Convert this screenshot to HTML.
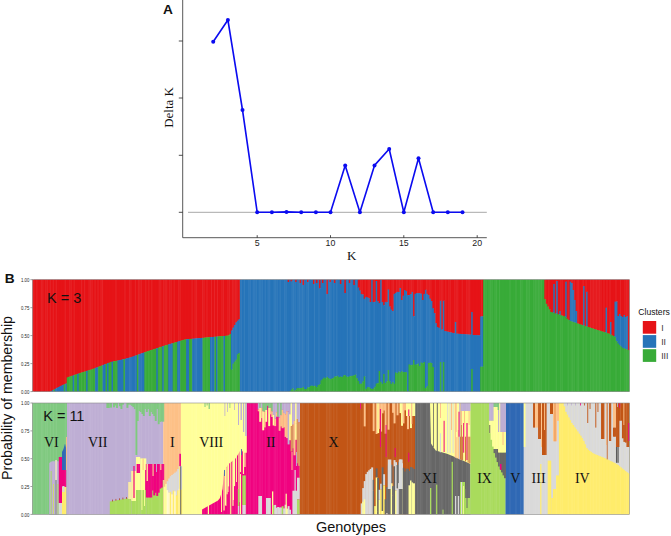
<!DOCTYPE html>
<html><head><meta charset="utf-8"><title>Figure</title>
<style>html,body{margin:0;padding:0;background:#fff}svg{display:block;font-family:"Liberation Sans",sans-serif}</style>
</head><body>
<svg width="671" height="536" viewBox="0 0 671 536">
<rect width="671" height="536" fill="#fff"/>
<g id="top">
<line x1="188" y1="212.3" x2="486.8" y2="212.3" stroke="#a8a8a8" stroke-width="1"/>
<path d="M182.7 0V237.7H486.8" fill="none" stroke="#3a3a3a" stroke-width="0.85"/>
<line x1="178.8" y1="41" x2="182.7" y2="41" stroke="#222" stroke-width="0.8"/>
<line x1="178.8" y1="98" x2="182.7" y2="98" stroke="#222" stroke-width="0.8"/>
<line x1="178.8" y1="155.3" x2="182.7" y2="155.3" stroke="#222" stroke-width="0.8"/>
<line x1="178.8" y1="212.3" x2="182.7" y2="212.3" stroke="#222" stroke-width="0.8"/>
<line x1="257.2" y1="235.2" x2="257.2" y2="237.7" stroke="#222" stroke-width="0.8"/>
<text x="257.2" y="246.2" font-size="8.8" text-anchor="middle" fill="#222">5</text>
<line x1="330.5" y1="235.2" x2="330.5" y2="237.7" stroke="#222" stroke-width="0.8"/>
<text x="330.5" y="246.2" font-size="8.8" text-anchor="middle" fill="#222">10</text>
<line x1="403.8" y1="235.2" x2="403.8" y2="237.7" stroke="#222" stroke-width="0.8"/>
<text x="403.8" y="246.2" font-size="8.8" text-anchor="middle" fill="#222">15</text>
<line x1="477.2" y1="235.2" x2="477.2" y2="237.7" stroke="#222" stroke-width="0.8"/>
<text x="477.2" y="246.2" font-size="8.8" text-anchor="middle" fill="#222">20</text>
<path d="M213.2 41.8 L227.9 20 L242.5 110 L257.2 212.3 L271.9 212.3 L286.5 211.9 L301.2 212.3 L315.9 212.3 L330.5 212.3 L345.2 165.4 L359.9 212.3 L374.5 165.4 L389.2 149 L403.8 212.3 L418.5 158.2 L433.2 212.3 L447.8 212.3 L462.5 212.3" fill="none" stroke="#0b0bf0" stroke-width="1.6" stroke-linejoin="round"/>
<circle cx="213.2" cy="41.8" r="2" fill="#0b0bf0"/>
<circle cx="227.9" cy="20" r="2" fill="#0b0bf0"/>
<circle cx="242.5" cy="110" r="2" fill="#0b0bf0"/>
<circle cx="257.2" cy="212.3" r="2" fill="#0b0bf0"/>
<circle cx="271.9" cy="212.3" r="2" fill="#0b0bf0"/>
<circle cx="286.5" cy="211.9" r="2" fill="#0b0bf0"/>
<circle cx="301.2" cy="212.3" r="2" fill="#0b0bf0"/>
<circle cx="315.9" cy="212.3" r="2" fill="#0b0bf0"/>
<circle cx="330.5" cy="212.3" r="2" fill="#0b0bf0"/>
<circle cx="345.2" cy="165.4" r="2" fill="#0b0bf0"/>
<circle cx="359.9" cy="212.3" r="2" fill="#0b0bf0"/>
<circle cx="374.5" cy="165.4" r="2" fill="#0b0bf0"/>
<circle cx="389.2" cy="149" r="2" fill="#0b0bf0"/>
<circle cx="403.8" cy="212.3" r="2" fill="#0b0bf0"/>
<circle cx="418.5" cy="158.2" r="2" fill="#0b0bf0"/>
<circle cx="433.2" cy="212.3" r="2" fill="#0b0bf0"/>
<circle cx="447.8" cy="212.3" r="2" fill="#0b0bf0"/>
<circle cx="462.5" cy="212.3" r="2" fill="#0b0bf0"/>
<text x="351.6" y="260" font-family="Liberation Serif, serif" font-size="13" text-anchor="middle" fill="#111">K</text>
<text transform="translate(172.9,107.4) rotate(-90)" font-family="Liberation Serif, serif" font-size="13" text-anchor="middle" fill="#111">Delta K</text>
<text x="162.9" y="13.8" font-size="13.7" font-weight="bold" fill="#111">A</text>
</g>
<g id="k3">
<rect x="32.4" y="279.7" width="597.0" height="111.90000000000003" fill="#fff"/>
<rect x="32.40" y="279.7" width="2.98" height="111.9" fill="#e61317"/>
<rect x="33.89" y="279.7" width="2.98" height="111.9" fill="#e61317"/>
<rect x="35.38" y="279.7" width="2.98" height="111.9" fill="#e61317"/>
<rect x="36.88" y="279.7" width="2.98" height="111.9" fill="#e61317"/>
<rect x="38.37" y="279.7" width="2.98" height="111.9" fill="#e61317"/>
<rect x="39.86" y="279.7" width="2.98" height="111.9" fill="#e61317"/>
<rect x="41.35" y="279.7" width="2.98" height="111.9" fill="#e61317"/>
<rect x="42.85" y="279.7" width="2.98" height="111.9" fill="#e61317"/>
<rect x="44.34" y="279.7" width="2.98" height="111.9" fill="#e61317"/>
<rect x="45.83" y="279.7" width="2.98" height="111.9" fill="#e61317"/>
<rect x="47.32" y="279.7" width="2.98" height="111.9" fill="#e61317"/>
<rect x="48.82" y="279.7" width="2.98" height="111.9" fill="#e61317"/>
<rect x="50.31" y="279.7" width="2.98" height="111.3" fill="#e61317"/>
<rect x="50.31" y="391.0" width="2.98" height="0.6" fill="#2674b9"/>
<rect x="51.80" y="279.7" width="2.98" height="110.5" fill="#e61317"/>
<rect x="51.80" y="390.2" width="2.98" height="1.4" fill="#2674b9"/>
<rect x="53.30" y="279.7" width="2.98" height="109.7" fill="#e61317"/>
<rect x="53.30" y="389.4" width="2.98" height="2.2" fill="#38ab38"/>
<rect x="54.79" y="279.7" width="2.98" height="108.9" fill="#e61317"/>
<rect x="54.79" y="388.6" width="2.98" height="3.0" fill="#2674b9"/>
<rect x="56.28" y="279.7" width="2.98" height="108.1" fill="#e61317"/>
<rect x="56.28" y="387.8" width="2.98" height="3.8" fill="#2674b9"/>
<rect x="57.77" y="279.7" width="2.98" height="107.3" fill="#e61317"/>
<rect x="57.77" y="387.0" width="2.98" height="4.6" fill="#2674b9"/>
<rect x="59.27" y="279.7" width="2.98" height="106.5" fill="#e61317"/>
<rect x="59.27" y="386.2" width="2.98" height="5.4" fill="#2674b9"/>
<rect x="60.76" y="279.7" width="2.98" height="105.8" fill="#e61317"/>
<rect x="60.76" y="385.5" width="2.98" height="6.1" fill="#2674b9"/>
<rect x="62.25" y="279.7" width="2.98" height="105.1" fill="#e61317"/>
<rect x="62.25" y="384.8" width="2.98" height="6.8" fill="#2674b9"/>
<rect x="63.74" y="279.7" width="2.98" height="104.4" fill="#e61317"/>
<rect x="63.74" y="384.1" width="2.98" height="7.5" fill="#38ab38"/>
<rect x="65.23" y="279.7" width="2.98" height="103.8" fill="#e61317"/>
<rect x="65.23" y="383.5" width="2.98" height="8.1" fill="#2674b9"/>
<rect x="66.73" y="279.7" width="2.98" height="97.6" fill="#e61317"/>
<rect x="66.73" y="377.3" width="2.98" height="14.3" fill="#38ab38"/>
<rect x="68.22" y="279.7" width="2.98" height="97.1" fill="#e61317"/>
<rect x="68.22" y="376.8" width="2.98" height="14.8" fill="#38ab38"/>
<rect x="69.71" y="279.7" width="2.98" height="96.6" fill="#e61317"/>
<rect x="69.71" y="376.3" width="2.98" height="15.3" fill="#38ab38"/>
<rect x="71.20" y="279.7" width="2.98" height="96.1" fill="#e61317"/>
<rect x="71.20" y="375.8" width="2.98" height="15.8" fill="#38ab38"/>
<rect x="72.70" y="279.7" width="2.98" height="95.6" fill="#e61317"/>
<rect x="72.70" y="375.3" width="2.98" height="16.3" fill="#2674b9"/>
<rect x="74.19" y="279.7" width="2.98" height="95.0" fill="#e61317"/>
<rect x="74.19" y="374.7" width="2.98" height="16.9" fill="#38ab38"/>
<rect x="75.68" y="279.7" width="2.98" height="94.5" fill="#e61317"/>
<rect x="75.68" y="374.2" width="2.98" height="17.4" fill="#38ab38"/>
<rect x="77.17" y="279.7" width="2.98" height="94.0" fill="#e61317"/>
<rect x="77.17" y="373.7" width="2.98" height="17.9" fill="#2674b9"/>
<rect x="78.67" y="279.7" width="2.98" height="93.5" fill="#e61317"/>
<rect x="78.67" y="373.2" width="2.98" height="18.4" fill="#38ab38"/>
<rect x="80.16" y="279.7" width="2.98" height="93.0" fill="#e61317"/>
<rect x="80.16" y="372.7" width="2.98" height="18.9" fill="#38ab38"/>
<rect x="81.65" y="279.7" width="2.98" height="92.5" fill="#e61317"/>
<rect x="81.65" y="372.2" width="2.98" height="19.4" fill="#38ab38"/>
<rect x="83.14" y="279.7" width="2.98" height="92.1" fill="#e61317"/>
<rect x="83.14" y="371.8" width="2.98" height="19.8" fill="#38ab38"/>
<rect x="84.64" y="279.7" width="2.98" height="91.6" fill="#e61317"/>
<rect x="84.64" y="371.3" width="2.98" height="20.3" fill="#38ab38"/>
<rect x="86.13" y="279.7" width="2.98" height="91.1" fill="#e61317"/>
<rect x="86.13" y="370.8" width="2.98" height="20.8" fill="#2674b9"/>
<rect x="87.62" y="279.7" width="2.98" height="90.6" fill="#e61317"/>
<rect x="87.62" y="370.3" width="2.98" height="21.3" fill="#38ab38"/>
<rect x="89.11" y="279.7" width="2.98" height="90.2" fill="#e61317"/>
<rect x="89.11" y="369.9" width="2.98" height="21.7" fill="#38ab38"/>
<rect x="90.61" y="279.7" width="2.98" height="89.7" fill="#e61317"/>
<rect x="90.61" y="369.4" width="2.98" height="22.2" fill="#38ab38"/>
<rect x="92.10" y="279.7" width="2.98" height="89.2" fill="#e61317"/>
<rect x="92.10" y="368.9" width="2.98" height="22.7" fill="#38ab38"/>
<rect x="93.59" y="279.7" width="2.98" height="88.6" fill="#e61317"/>
<rect x="93.59" y="368.3" width="2.98" height="23.3" fill="#38ab38"/>
<rect x="95.08" y="279.7" width="2.98" height="88.0" fill="#e61317"/>
<rect x="95.08" y="367.7" width="2.98" height="23.9" fill="#2674b9"/>
<rect x="96.58" y="279.7" width="2.98" height="87.5" fill="#e61317"/>
<rect x="96.58" y="367.2" width="2.98" height="24.4" fill="#2674b9"/>
<rect x="98.07" y="279.7" width="2.98" height="86.9" fill="#e61317"/>
<rect x="98.07" y="366.6" width="2.98" height="25.0" fill="#38ab38"/>
<rect x="99.56" y="279.7" width="2.98" height="86.3" fill="#e61317"/>
<rect x="99.56" y="366.0" width="2.98" height="25.6" fill="#38ab38"/>
<rect x="101.06" y="279.7" width="2.98" height="85.7" fill="#e61317"/>
<rect x="101.06" y="365.4" width="2.98" height="26.2" fill="#38ab38"/>
<rect x="102.55" y="279.7" width="2.98" height="85.1" fill="#e61317"/>
<rect x="102.55" y="364.8" width="2.98" height="26.8" fill="#2674b9"/>
<rect x="104.04" y="279.7" width="2.98" height="84.5" fill="#e61317"/>
<rect x="104.04" y="364.2" width="2.98" height="27.4" fill="#2674b9"/>
<rect x="105.53" y="279.7" width="2.98" height="84.0" fill="#e61317"/>
<rect x="105.53" y="363.7" width="2.98" height="27.9" fill="#38ab38"/>
<rect x="107.03" y="279.7" width="2.98" height="83.4" fill="#e61317"/>
<rect x="107.03" y="363.1" width="2.98" height="28.5" fill="#2674b9"/>
<rect x="108.52" y="279.7" width="2.98" height="82.8" fill="#e61317"/>
<rect x="108.52" y="362.5" width="2.98" height="29.1" fill="#38ab38"/>
<rect x="110.01" y="279.7" width="2.98" height="82.2" fill="#e61317"/>
<rect x="110.01" y="361.9" width="2.98" height="29.7" fill="#38ab38"/>
<rect x="111.50" y="279.7" width="2.98" height="81.9" fill="#e61317"/>
<rect x="111.50" y="361.6" width="2.98" height="30.0" fill="#2674b9"/>
<rect x="113.00" y="279.7" width="2.98" height="81.6" fill="#e61317"/>
<rect x="113.00" y="361.3" width="2.98" height="30.3" fill="#38ab38"/>
<rect x="114.49" y="279.7" width="2.98" height="81.3" fill="#e61317"/>
<rect x="114.49" y="361.0" width="2.98" height="30.6" fill="#38ab38"/>
<rect x="115.98" y="279.7" width="2.98" height="81.0" fill="#e61317"/>
<rect x="115.98" y="360.7" width="2.98" height="30.9" fill="#38ab38"/>
<rect x="117.47" y="279.7" width="2.98" height="80.7" fill="#e61317"/>
<rect x="117.47" y="360.4" width="2.98" height="31.2" fill="#2674b9"/>
<rect x="118.97" y="279.7" width="2.98" height="80.4" fill="#e61317"/>
<rect x="118.97" y="360.1" width="2.98" height="31.5" fill="#2674b9"/>
<rect x="120.46" y="279.7" width="2.98" height="80.0" fill="#e61317"/>
<rect x="120.46" y="359.7" width="2.98" height="31.9" fill="#2674b9"/>
<rect x="121.95" y="279.7" width="2.98" height="79.6" fill="#e61317"/>
<rect x="121.95" y="359.3" width="2.98" height="32.3" fill="#2674b9"/>
<rect x="123.44" y="279.7" width="2.98" height="79.3" fill="#e61317"/>
<rect x="123.44" y="359.0" width="2.98" height="32.6" fill="#38ab38"/>
<rect x="124.94" y="279.7" width="2.98" height="78.9" fill="#e61317"/>
<rect x="124.94" y="358.6" width="2.98" height="33.0" fill="#2674b9"/>
<rect x="126.43" y="279.7" width="2.98" height="78.5" fill="#e61317"/>
<rect x="126.43" y="358.2" width="2.98" height="33.4" fill="#2674b9"/>
<rect x="127.92" y="279.7" width="2.98" height="78.1" fill="#e61317"/>
<rect x="127.92" y="357.8" width="2.98" height="33.8" fill="#2674b9"/>
<rect x="129.41" y="279.7" width="2.98" height="77.7" fill="#e61317"/>
<rect x="129.41" y="357.4" width="2.98" height="34.2" fill="#2674b9"/>
<rect x="130.91" y="279.7" width="2.98" height="77.2" fill="#e61317"/>
<rect x="130.91" y="356.9" width="2.98" height="34.7" fill="#2674b9"/>
<rect x="132.40" y="279.7" width="2.98" height="76.7" fill="#e61317"/>
<rect x="132.40" y="356.4" width="2.98" height="35.2" fill="#2674b9"/>
<rect x="133.89" y="279.7" width="2.98" height="76.1" fill="#e61317"/>
<rect x="133.89" y="355.8" width="2.98" height="35.8" fill="#2674b9"/>
<rect x="135.38" y="279.7" width="2.98" height="75.6" fill="#e61317"/>
<rect x="135.38" y="355.3" width="2.98" height="36.3" fill="#2674b9"/>
<rect x="136.88" y="279.7" width="2.98" height="75.0" fill="#e61317"/>
<rect x="136.88" y="354.7" width="2.98" height="36.9" fill="#38ab38"/>
<rect x="138.37" y="279.7" width="2.98" height="74.5" fill="#e61317"/>
<rect x="138.37" y="354.2" width="2.98" height="37.4" fill="#2674b9"/>
<rect x="139.86" y="279.7" width="2.98" height="73.9" fill="#e61317"/>
<rect x="139.86" y="353.6" width="2.98" height="38.0" fill="#2674b9"/>
<rect x="141.35" y="279.7" width="2.98" height="73.4" fill="#e61317"/>
<rect x="141.35" y="353.1" width="2.98" height="38.5" fill="#2674b9"/>
<rect x="142.84" y="279.7" width="2.98" height="72.9" fill="#e61317"/>
<rect x="142.84" y="352.6" width="2.98" height="39.0" fill="#2674b9"/>
<rect x="144.34" y="279.7" width="2.98" height="72.3" fill="#e61317"/>
<rect x="144.34" y="352.0" width="2.98" height="39.6" fill="#38ab38"/>
<rect x="145.83" y="279.7" width="2.98" height="71.8" fill="#e61317"/>
<rect x="145.83" y="351.5" width="2.98" height="40.1" fill="#38ab38"/>
<rect x="147.32" y="279.7" width="2.98" height="71.3" fill="#e61317"/>
<rect x="147.32" y="351.0" width="2.98" height="40.6" fill="#38ab38"/>
<rect x="148.81" y="279.7" width="2.98" height="70.8" fill="#e61317"/>
<rect x="148.81" y="350.5" width="2.98" height="41.1" fill="#38ab38"/>
<rect x="150.31" y="279.7" width="2.98" height="70.3" fill="#e61317"/>
<rect x="150.31" y="350.0" width="2.98" height="41.6" fill="#38ab38"/>
<rect x="151.80" y="279.7" width="2.98" height="69.9" fill="#e61317"/>
<rect x="151.80" y="349.6" width="2.98" height="42.0" fill="#38ab38"/>
<rect x="153.29" y="279.7" width="2.98" height="69.4" fill="#e61317"/>
<rect x="153.29" y="349.1" width="2.98" height="42.5" fill="#38ab38"/>
<rect x="154.78" y="279.7" width="2.98" height="68.9" fill="#e61317"/>
<rect x="154.78" y="348.6" width="2.98" height="43.0" fill="#38ab38"/>
<rect x="156.28" y="279.7" width="2.98" height="68.4" fill="#e61317"/>
<rect x="156.28" y="348.1" width="2.98" height="43.5" fill="#2674b9"/>
<rect x="157.77" y="279.7" width="2.98" height="67.9" fill="#e61317"/>
<rect x="157.77" y="347.6" width="2.98" height="44.0" fill="#38ab38"/>
<rect x="159.26" y="279.7" width="2.98" height="67.4" fill="#e61317"/>
<rect x="159.26" y="347.1" width="2.98" height="44.5" fill="#38ab38"/>
<rect x="160.75" y="279.7" width="2.98" height="66.9" fill="#e61317"/>
<rect x="160.75" y="346.6" width="2.98" height="45.0" fill="#38ab38"/>
<rect x="162.25" y="279.7" width="2.98" height="66.4" fill="#e61317"/>
<rect x="162.25" y="346.1" width="2.98" height="45.5" fill="#2674b9"/>
<rect x="163.74" y="279.7" width="2.98" height="65.9" fill="#e61317"/>
<rect x="163.74" y="345.6" width="2.98" height="46.0" fill="#38ab38"/>
<rect x="165.23" y="279.7" width="2.98" height="65.4" fill="#e61317"/>
<rect x="165.23" y="345.1" width="2.98" height="46.5" fill="#38ab38"/>
<rect x="166.72" y="279.7" width="2.98" height="65.0" fill="#e61317"/>
<rect x="166.72" y="344.7" width="2.98" height="46.9" fill="#38ab38"/>
<rect x="168.22" y="279.7" width="2.98" height="64.5" fill="#e61317"/>
<rect x="168.22" y="344.2" width="2.98" height="47.4" fill="#2674b9"/>
<rect x="169.71" y="279.7" width="2.98" height="64.1" fill="#e61317"/>
<rect x="169.71" y="343.8" width="2.98" height="47.8" fill="#2674b9"/>
<rect x="171.20" y="279.7" width="2.98" height="63.6" fill="#e61317"/>
<rect x="171.20" y="343.3" width="2.98" height="48.3" fill="#2674b9"/>
<rect x="172.69" y="279.7" width="2.98" height="63.2" fill="#e61317"/>
<rect x="172.69" y="342.9" width="2.98" height="48.7" fill="#38ab38"/>
<rect x="174.19" y="279.7" width="2.98" height="62.7" fill="#e61317"/>
<rect x="174.19" y="342.4" width="2.98" height="49.2" fill="#38ab38"/>
<rect x="175.68" y="279.7" width="2.98" height="62.3" fill="#e61317"/>
<rect x="175.68" y="342.0" width="2.98" height="49.6" fill="#38ab38"/>
<rect x="177.17" y="279.7" width="2.98" height="61.8" fill="#e61317"/>
<rect x="177.17" y="341.5" width="2.98" height="50.1" fill="#2674b9"/>
<rect x="178.66" y="279.7" width="2.98" height="61.4" fill="#e61317"/>
<rect x="178.66" y="341.1" width="2.98" height="50.5" fill="#2674b9"/>
<rect x="180.16" y="279.7" width="2.98" height="60.9" fill="#e61317"/>
<rect x="180.16" y="340.6" width="2.98" height="51.0" fill="#38ab38"/>
<rect x="181.65" y="279.7" width="2.98" height="60.5" fill="#e61317"/>
<rect x="181.65" y="340.2" width="2.98" height="51.4" fill="#38ab38"/>
<rect x="183.14" y="279.7" width="2.98" height="60.0" fill="#e61317"/>
<rect x="183.14" y="339.7" width="2.98" height="51.9" fill="#38ab38"/>
<rect x="184.63" y="279.7" width="2.98" height="59.7" fill="#e61317"/>
<rect x="184.63" y="339.4" width="2.98" height="52.2" fill="#38ab38"/>
<rect x="186.13" y="279.7" width="2.98" height="59.5" fill="#e61317"/>
<rect x="186.13" y="339.2" width="2.98" height="52.4" fill="#2674b9"/>
<rect x="187.62" y="279.7" width="2.98" height="59.4" fill="#e61317"/>
<rect x="187.62" y="339.1" width="2.98" height="52.5" fill="#2674b9"/>
<rect x="189.11" y="279.7" width="2.98" height="59.3" fill="#e61317"/>
<rect x="189.11" y="339.0" width="2.98" height="52.6" fill="#38ab38"/>
<rect x="190.60" y="279.7" width="2.98" height="59.1" fill="#e61317"/>
<rect x="190.60" y="338.8" width="2.98" height="52.8" fill="#38ab38"/>
<rect x="192.10" y="279.7" width="2.98" height="59.0" fill="#e61317"/>
<rect x="192.10" y="338.7" width="2.98" height="52.9" fill="#2674b9"/>
<rect x="193.59" y="279.7" width="2.98" height="58.9" fill="#e61317"/>
<rect x="193.59" y="338.6" width="2.98" height="53.0" fill="#2674b9"/>
<rect x="195.08" y="279.7" width="2.98" height="58.7" fill="#e61317"/>
<rect x="195.08" y="338.4" width="2.98" height="53.2" fill="#2674b9"/>
<rect x="196.57" y="279.7" width="2.98" height="58.6" fill="#e61317"/>
<rect x="196.57" y="338.3" width="2.98" height="53.3" fill="#2674b9"/>
<rect x="198.07" y="279.7" width="2.98" height="58.5" fill="#e61317"/>
<rect x="198.07" y="338.2" width="2.98" height="53.4" fill="#2674b9"/>
<rect x="199.56" y="279.7" width="2.98" height="58.3" fill="#e61317"/>
<rect x="199.56" y="338.0" width="2.98" height="53.6" fill="#2674b9"/>
<rect x="201.05" y="279.7" width="2.98" height="58.2" fill="#e61317"/>
<rect x="201.05" y="337.9" width="2.98" height="53.7" fill="#2674b9"/>
<rect x="202.54" y="279.7" width="2.98" height="58.1" fill="#e61317"/>
<rect x="202.54" y="337.8" width="2.98" height="53.8" fill="#38ab38"/>
<rect x="204.04" y="279.7" width="2.98" height="57.9" fill="#e61317"/>
<rect x="204.04" y="337.6" width="2.98" height="54.0" fill="#38ab38"/>
<rect x="205.53" y="279.7" width="2.98" height="57.8" fill="#e61317"/>
<rect x="205.53" y="337.5" width="2.98" height="54.1" fill="#38ab38"/>
<rect x="207.02" y="279.7" width="2.98" height="57.7" fill="#e61317"/>
<rect x="207.02" y="337.4" width="2.98" height="54.2" fill="#38ab38"/>
<rect x="208.51" y="279.7" width="2.98" height="57.5" fill="#e61317"/>
<rect x="208.51" y="337.2" width="2.98" height="54.4" fill="#38ab38"/>
<rect x="210.01" y="279.7" width="2.98" height="57.4" fill="#e61317"/>
<rect x="210.01" y="337.1" width="2.98" height="54.5" fill="#2674b9"/>
<rect x="211.50" y="279.7" width="2.98" height="57.3" fill="#e61317"/>
<rect x="211.50" y="337.0" width="2.98" height="54.6" fill="#2674b9"/>
<rect x="212.99" y="279.7" width="2.98" height="57.1" fill="#e61317"/>
<rect x="212.99" y="336.8" width="2.98" height="54.8" fill="#2674b9"/>
<rect x="214.48" y="279.7" width="2.98" height="57.0" fill="#e61317"/>
<rect x="214.48" y="336.7" width="2.98" height="54.9" fill="#38ab38"/>
<rect x="215.98" y="279.7" width="2.98" height="56.9" fill="#e61317"/>
<rect x="215.98" y="336.6" width="2.98" height="55.0" fill="#2674b9"/>
<rect x="217.47" y="279.7" width="2.98" height="56.7" fill="#e61317"/>
<rect x="217.47" y="336.4" width="2.98" height="55.2" fill="#38ab38"/>
<rect x="218.96" y="279.7" width="2.98" height="56.6" fill="#e61317"/>
<rect x="218.96" y="336.3" width="2.98" height="55.3" fill="#38ab38"/>
<rect x="220.45" y="279.7" width="2.98" height="56.5" fill="#e61317"/>
<rect x="220.45" y="336.2" width="2.98" height="55.4" fill="#38ab38"/>
<rect x="221.95" y="279.7" width="2.98" height="56.3" fill="#e61317"/>
<rect x="221.95" y="336.0" width="2.98" height="55.6" fill="#38ab38"/>
<rect x="223.44" y="279.7" width="2.98" height="56.2" fill="#e61317"/>
<rect x="223.44" y="335.9" width="2.98" height="55.7" fill="#2674b9"/>
<rect x="224.93" y="279.7" width="2.98" height="56.1" fill="#e61317"/>
<rect x="224.93" y="335.8" width="2.98" height="55.8" fill="#38ab38"/>
<rect x="226.43" y="279.7" width="2.98" height="55.9" fill="#e61317"/>
<rect x="226.43" y="335.6" width="2.98" height="56.0" fill="#38ab38"/>
<rect x="227.92" y="279.7" width="2.98" height="55.8" fill="#e61317"/>
<rect x="227.92" y="335.5" width="2.98" height="56.1" fill="#38ab38"/>
<rect x="229.41" y="279.7" width="2.98" height="54.3" fill="#e61317"/>
<rect x="229.41" y="334.0" width="2.98" height="57.6" fill="#38ab38"/>
<rect x="230.90" y="279.7" width="2.98" height="50.7" fill="#e61317"/>
<rect x="230.90" y="330.4" width="2.98" height="39.3" fill="#2674b9"/>
<rect x="230.90" y="369.7" width="2.98" height="21.9" fill="#38ab38"/>
<rect x="232.40" y="279.7" width="2.98" height="47.9" fill="#e61317"/>
<rect x="232.40" y="327.6" width="2.98" height="36.0" fill="#2674b9"/>
<rect x="232.40" y="363.6" width="2.98" height="28.0" fill="#38ab38"/>
<rect x="233.89" y="279.7" width="2.98" height="45.3" fill="#e61317"/>
<rect x="233.89" y="325.0" width="2.98" height="36.8" fill="#2674b9"/>
<rect x="233.89" y="361.7" width="2.98" height="29.9" fill="#38ab38"/>
<rect x="235.38" y="279.7" width="2.98" height="42.6" fill="#e61317"/>
<rect x="235.38" y="322.3" width="2.98" height="37.3" fill="#2674b9"/>
<rect x="235.38" y="359.6" width="2.98" height="32.0" fill="#38ab38"/>
<rect x="236.87" y="279.7" width="2.98" height="41.0" fill="#e61317"/>
<rect x="236.87" y="320.7" width="2.98" height="33.7" fill="#2674b9"/>
<rect x="236.87" y="354.3" width="2.98" height="37.3" fill="#38ab38"/>
<rect x="238.37" y="279.7" width="2.98" height="39.5" fill="#e61317"/>
<rect x="238.37" y="319.2" width="2.98" height="33.8" fill="#2674b9"/>
<rect x="238.37" y="353.0" width="2.98" height="38.6" fill="#38ab38"/>
<rect x="239.86" y="279.7" width="2.98" height="111.9" fill="#2674b9"/>
<rect x="241.35" y="279.7" width="2.98" height="111.9" fill="#2674b9"/>
<rect x="242.84" y="279.7" width="2.98" height="111.9" fill="#2674b9"/>
<rect x="244.34" y="279.7" width="2.98" height="111.9" fill="#2674b9"/>
<rect x="245.83" y="279.7" width="2.98" height="111.9" fill="#2674b9"/>
<rect x="247.32" y="279.7" width="2.98" height="111.9" fill="#2674b9"/>
<rect x="248.81" y="279.7" width="2.98" height="111.9" fill="#2674b9"/>
<rect x="250.31" y="279.7" width="2.98" height="111.9" fill="#2674b9"/>
<rect x="251.80" y="279.7" width="2.98" height="111.9" fill="#2674b9"/>
<rect x="253.29" y="279.7" width="2.98" height="111.9" fill="#2674b9"/>
<rect x="254.78" y="279.7" width="2.98" height="111.9" fill="#2674b9"/>
<rect x="256.27" y="279.7" width="2.98" height="111.9" fill="#2674b9"/>
<rect x="257.77" y="279.7" width="2.98" height="111.9" fill="#2674b9"/>
<rect x="259.26" y="279.7" width="2.98" height="111.9" fill="#2674b9"/>
<rect x="260.75" y="279.7" width="2.98" height="111.9" fill="#2674b9"/>
<rect x="262.25" y="279.7" width="2.98" height="111.9" fill="#2674b9"/>
<rect x="263.74" y="279.7" width="2.98" height="111.9" fill="#2674b9"/>
<rect x="265.23" y="279.7" width="2.98" height="111.9" fill="#2674b9"/>
<rect x="266.72" y="279.7" width="2.98" height="111.9" fill="#2674b9"/>
<rect x="268.21" y="279.7" width="2.98" height="111.9" fill="#2674b9"/>
<rect x="269.71" y="279.7" width="2.98" height="111.9" fill="#2674b9"/>
<rect x="271.20" y="279.7" width="2.98" height="111.9" fill="#2674b9"/>
<rect x="272.69" y="279.7" width="2.98" height="111.9" fill="#2674b9"/>
<rect x="274.19" y="279.7" width="2.98" height="111.9" fill="#2674b9"/>
<rect x="275.68" y="279.7" width="2.98" height="111.9" fill="#2674b9"/>
<rect x="277.17" y="279.7" width="2.98" height="111.9" fill="#2674b9"/>
<rect x="278.66" y="279.7" width="2.98" height="111.9" fill="#2674b9"/>
<rect x="280.15" y="279.7" width="2.98" height="111.9" fill="#2674b9"/>
<rect x="281.65" y="279.7" width="2.98" height="111.9" fill="#2674b9"/>
<rect x="283.14" y="279.7" width="2.98" height="111.9" fill="#2674b9"/>
<rect x="284.63" y="279.7" width="2.98" height="111.9" fill="#2674b9"/>
<rect x="286.12" y="279.7" width="2.98" height="111.9" fill="#2674b9"/>
<rect x="287.62" y="279.7" width="2.98" height="2.3" fill="#e61317"/>
<rect x="287.62" y="282.0" width="2.98" height="109.6" fill="#2674b9"/>
<rect x="289.11" y="279.7" width="2.98" height="111.5" fill="#2674b9"/>
<rect x="289.11" y="391.2" width="2.98" height="0.4" fill="#38ab38"/>
<rect x="290.60" y="279.7" width="2.98" height="1.8" fill="#e61317"/>
<rect x="290.60" y="281.5" width="2.98" height="108.1" fill="#2674b9"/>
<rect x="290.60" y="389.6" width="2.98" height="2.0" fill="#38ab38"/>
<rect x="292.09" y="279.7" width="2.98" height="108.7" fill="#2674b9"/>
<rect x="292.09" y="388.4" width="2.98" height="3.2" fill="#38ab38"/>
<rect x="293.59" y="279.7" width="2.98" height="111.0" fill="#2674b9"/>
<rect x="293.59" y="390.7" width="2.98" height="0.9" fill="#38ab38"/>
<rect x="295.08" y="279.7" width="2.98" height="2.3" fill="#e61317"/>
<rect x="295.08" y="282.0" width="2.98" height="107.7" fill="#2674b9"/>
<rect x="295.08" y="389.7" width="2.98" height="1.9" fill="#38ab38"/>
<rect x="296.57" y="279.7" width="2.98" height="108.3" fill="#2674b9"/>
<rect x="296.57" y="388.0" width="2.98" height="3.6" fill="#38ab38"/>
<rect x="298.06" y="279.7" width="2.98" height="108.4" fill="#2674b9"/>
<rect x="298.06" y="388.1" width="2.98" height="3.5" fill="#38ab38"/>
<rect x="299.56" y="279.7" width="2.98" height="3.3" fill="#e61317"/>
<rect x="299.56" y="283.0" width="2.98" height="105.2" fill="#2674b9"/>
<rect x="299.56" y="388.2" width="2.98" height="3.4" fill="#38ab38"/>
<rect x="301.05" y="279.7" width="2.98" height="108.3" fill="#2674b9"/>
<rect x="301.05" y="388.0" width="2.98" height="3.6" fill="#38ab38"/>
<rect x="302.54" y="279.7" width="2.98" height="5.3" fill="#e61317"/>
<rect x="302.54" y="285.0" width="2.98" height="102.1" fill="#2674b9"/>
<rect x="302.54" y="387.1" width="2.98" height="4.5" fill="#38ab38"/>
<rect x="304.03" y="279.7" width="2.98" height="109.3" fill="#2674b9"/>
<rect x="304.03" y="389.0" width="2.98" height="2.6" fill="#38ab38"/>
<rect x="305.53" y="279.7" width="2.98" height="109.5" fill="#2674b9"/>
<rect x="305.53" y="389.2" width="2.98" height="2.4" fill="#38ab38"/>
<rect x="307.02" y="279.7" width="2.98" height="2.3" fill="#e61317"/>
<rect x="307.02" y="282.0" width="2.98" height="105.4" fill="#2674b9"/>
<rect x="307.02" y="387.4" width="2.98" height="4.2" fill="#38ab38"/>
<rect x="308.51" y="279.7" width="2.98" height="107.6" fill="#2674b9"/>
<rect x="308.51" y="387.3" width="2.98" height="4.3" fill="#38ab38"/>
<rect x="310.00" y="279.7" width="2.98" height="106.1" fill="#2674b9"/>
<rect x="310.00" y="385.8" width="2.98" height="5.8" fill="#38ab38"/>
<rect x="311.50" y="279.7" width="2.98" height="106.0" fill="#2674b9"/>
<rect x="311.50" y="385.7" width="2.98" height="5.9" fill="#38ab38"/>
<rect x="312.99" y="279.7" width="2.98" height="4.3" fill="#e61317"/>
<rect x="312.99" y="284.0" width="2.98" height="102.2" fill="#2674b9"/>
<rect x="312.99" y="386.2" width="2.98" height="5.4" fill="#38ab38"/>
<rect x="314.48" y="279.7" width="2.98" height="106.0" fill="#2674b9"/>
<rect x="314.48" y="385.7" width="2.98" height="5.9" fill="#38ab38"/>
<rect x="315.97" y="279.7" width="2.98" height="3.3" fill="#e61317"/>
<rect x="315.97" y="283.0" width="2.98" height="104.2" fill="#2674b9"/>
<rect x="315.97" y="387.2" width="2.98" height="4.4" fill="#38ab38"/>
<rect x="317.47" y="279.7" width="2.98" height="105.3" fill="#2674b9"/>
<rect x="317.47" y="385.0" width="2.98" height="6.6" fill="#38ab38"/>
<rect x="318.96" y="279.7" width="2.98" height="8.7" fill="#e61317"/>
<rect x="318.96" y="288.4" width="2.98" height="95.9" fill="#2674b9"/>
<rect x="318.96" y="384.3" width="2.98" height="7.3" fill="#38ab38"/>
<rect x="320.45" y="279.7" width="2.98" height="100.6" fill="#2674b9"/>
<rect x="320.45" y="380.3" width="2.98" height="11.3" fill="#38ab38"/>
<rect x="321.94" y="279.7" width="2.98" height="3.3" fill="#e61317"/>
<rect x="321.94" y="283.0" width="2.98" height="95.9" fill="#2674b9"/>
<rect x="321.94" y="378.9" width="2.98" height="12.7" fill="#38ab38"/>
<rect x="323.44" y="279.7" width="2.98" height="97.8" fill="#2674b9"/>
<rect x="323.44" y="377.5" width="2.98" height="14.1" fill="#38ab38"/>
<rect x="324.93" y="279.7" width="2.98" height="98.8" fill="#2674b9"/>
<rect x="324.93" y="378.5" width="2.98" height="13.1" fill="#38ab38"/>
<rect x="326.42" y="279.7" width="2.98" height="14.3" fill="#e61317"/>
<rect x="326.42" y="294.0" width="2.98" height="82.8" fill="#2674b9"/>
<rect x="326.42" y="376.8" width="2.98" height="14.8" fill="#38ab38"/>
<rect x="327.91" y="279.7" width="2.98" height="98.4" fill="#2674b9"/>
<rect x="327.91" y="378.1" width="2.98" height="13.5" fill="#38ab38"/>
<rect x="329.41" y="279.7" width="2.98" height="2.3" fill="#e61317"/>
<rect x="329.41" y="282.0" width="2.98" height="97.2" fill="#2674b9"/>
<rect x="329.41" y="379.2" width="2.98" height="12.4" fill="#38ab38"/>
<rect x="330.90" y="279.7" width="2.98" height="99.0" fill="#2674b9"/>
<rect x="330.90" y="378.7" width="2.98" height="12.9" fill="#38ab38"/>
<rect x="332.39" y="279.7" width="2.98" height="98.3" fill="#2674b9"/>
<rect x="332.39" y="378.0" width="2.98" height="13.6" fill="#38ab38"/>
<rect x="333.88" y="279.7" width="2.98" height="3.3" fill="#e61317"/>
<rect x="333.88" y="283.0" width="2.98" height="93.5" fill="#2674b9"/>
<rect x="333.88" y="376.5" width="2.98" height="15.1" fill="#38ab38"/>
<rect x="335.38" y="279.7" width="2.98" height="96.9" fill="#2674b9"/>
<rect x="335.38" y="376.6" width="2.98" height="15.0" fill="#38ab38"/>
<rect x="336.87" y="279.7" width="2.98" height="96.1" fill="#2674b9"/>
<rect x="336.87" y="375.8" width="2.98" height="15.8" fill="#38ab38"/>
<rect x="338.36" y="279.7" width="2.98" height="97.7" fill="#2674b9"/>
<rect x="338.36" y="377.4" width="2.98" height="14.2" fill="#38ab38"/>
<rect x="339.85" y="279.7" width="2.98" height="4.3" fill="#e61317"/>
<rect x="339.85" y="284.0" width="2.98" height="92.5" fill="#2674b9"/>
<rect x="339.85" y="376.5" width="2.98" height="15.1" fill="#38ab38"/>
<rect x="341.35" y="279.7" width="2.98" height="97.3" fill="#2674b9"/>
<rect x="341.35" y="377.0" width="2.98" height="14.6" fill="#38ab38"/>
<rect x="342.84" y="279.7" width="2.98" height="95.8" fill="#2674b9"/>
<rect x="342.84" y="375.5" width="2.98" height="16.1" fill="#38ab38"/>
<rect x="344.33" y="279.7" width="2.98" height="13.3" fill="#e61317"/>
<rect x="344.33" y="293.0" width="2.98" height="82.0" fill="#2674b9"/>
<rect x="344.33" y="375.0" width="2.98" height="16.6" fill="#38ab38"/>
<rect x="345.82" y="279.7" width="2.98" height="96.9" fill="#2674b9"/>
<rect x="345.82" y="376.6" width="2.98" height="15.0" fill="#38ab38"/>
<rect x="347.32" y="279.7" width="2.98" height="97.2" fill="#2674b9"/>
<rect x="347.32" y="376.9" width="2.98" height="14.7" fill="#38ab38"/>
<rect x="348.81" y="279.7" width="2.98" height="3.3" fill="#e61317"/>
<rect x="348.81" y="283.0" width="2.98" height="93.3" fill="#2674b9"/>
<rect x="348.81" y="376.3" width="2.98" height="15.3" fill="#38ab38"/>
<rect x="350.30" y="279.7" width="2.98" height="96.2" fill="#2674b9"/>
<rect x="350.30" y="375.9" width="2.98" height="15.7" fill="#38ab38"/>
<rect x="351.79" y="279.7" width="2.98" height="96.1" fill="#2674b9"/>
<rect x="351.79" y="375.8" width="2.98" height="15.8" fill="#38ab38"/>
<rect x="353.29" y="279.7" width="2.98" height="5.3" fill="#e61317"/>
<rect x="353.29" y="285.0" width="2.98" height="90.3" fill="#2674b9"/>
<rect x="353.29" y="375.3" width="2.98" height="16.3" fill="#38ab38"/>
<rect x="354.78" y="279.7" width="2.98" height="94.9" fill="#2674b9"/>
<rect x="354.78" y="374.6" width="2.98" height="17.0" fill="#38ab38"/>
<rect x="356.27" y="279.7" width="2.98" height="98.6" fill="#2674b9"/>
<rect x="356.27" y="378.3" width="2.98" height="13.3" fill="#38ab38"/>
<rect x="357.76" y="279.7" width="2.98" height="8.0" fill="#e61317"/>
<rect x="357.76" y="287.7" width="2.98" height="93.2" fill="#2674b9"/>
<rect x="357.76" y="380.9" width="2.98" height="10.7" fill="#38ab38"/>
<rect x="359.26" y="279.7" width="2.98" height="10.9" fill="#e61317"/>
<rect x="359.26" y="290.6" width="2.98" height="93.3" fill="#2674b9"/>
<rect x="359.26" y="383.9" width="2.98" height="7.7" fill="#38ab38"/>
<rect x="360.75" y="279.7" width="2.98" height="14.6" fill="#e61317"/>
<rect x="360.75" y="294.3" width="2.98" height="89.4" fill="#2674b9"/>
<rect x="360.75" y="383.6" width="2.98" height="8.0" fill="#38ab38"/>
<rect x="362.24" y="279.7" width="2.98" height="14.9" fill="#e61317"/>
<rect x="362.24" y="294.6" width="2.98" height="86.8" fill="#2674b9"/>
<rect x="362.24" y="381.4" width="2.98" height="10.2" fill="#38ab38"/>
<rect x="363.73" y="279.7" width="2.98" height="19.1" fill="#e61317"/>
<rect x="363.73" y="298.8" width="2.98" height="77.6" fill="#2674b9"/>
<rect x="363.73" y="376.4" width="2.98" height="15.2" fill="#38ab38"/>
<rect x="365.23" y="279.7" width="2.98" height="17.2" fill="#e61317"/>
<rect x="365.23" y="296.9" width="2.98" height="92.0" fill="#2674b9"/>
<rect x="365.23" y="389.0" width="2.98" height="2.6" fill="#38ab38"/>
<rect x="366.72" y="279.7" width="2.98" height="17.8" fill="#e61317"/>
<rect x="366.72" y="297.5" width="2.98" height="89.7" fill="#2674b9"/>
<rect x="366.72" y="387.2" width="2.98" height="4.4" fill="#38ab38"/>
<rect x="368.21" y="279.7" width="2.98" height="18.5" fill="#e61317"/>
<rect x="368.21" y="298.2" width="2.98" height="88.9" fill="#2674b9"/>
<rect x="368.21" y="387.1" width="2.98" height="4.5" fill="#38ab38"/>
<rect x="369.70" y="279.7" width="2.98" height="22.3" fill="#e61317"/>
<rect x="369.70" y="302.0" width="2.98" height="86.4" fill="#2674b9"/>
<rect x="369.70" y="388.4" width="2.98" height="3.2" fill="#38ab38"/>
<rect x="371.20" y="279.7" width="2.98" height="0.3" fill="#e61317"/>
<rect x="371.20" y="280.0" width="2.98" height="109.0" fill="#2674b9"/>
<rect x="371.20" y="389.0" width="2.98" height="2.6" fill="#38ab38"/>
<rect x="372.69" y="279.7" width="2.98" height="22.4" fill="#e61317"/>
<rect x="372.69" y="302.1" width="2.98" height="86.4" fill="#2674b9"/>
<rect x="372.69" y="388.5" width="2.98" height="3.1" fill="#38ab38"/>
<rect x="374.18" y="279.7" width="2.98" height="22.0" fill="#e61317"/>
<rect x="374.18" y="301.7" width="2.98" height="85.1" fill="#2674b9"/>
<rect x="374.18" y="386.8" width="2.98" height="4.8" fill="#38ab38"/>
<rect x="375.67" y="279.7" width="2.98" height="1.3" fill="#e61317"/>
<rect x="375.67" y="281.0" width="2.98" height="102.6" fill="#2674b9"/>
<rect x="375.67" y="383.6" width="2.98" height="8.0" fill="#38ab38"/>
<rect x="377.17" y="279.7" width="2.98" height="21.7" fill="#e61317"/>
<rect x="377.17" y="301.4" width="2.98" height="81.8" fill="#2674b9"/>
<rect x="377.17" y="383.2" width="2.98" height="8.4" fill="#38ab38"/>
<rect x="378.66" y="279.7" width="2.98" height="23.5" fill="#e61317"/>
<rect x="378.66" y="303.2" width="2.98" height="67.8" fill="#2674b9"/>
<rect x="378.66" y="371.0" width="2.98" height="20.6" fill="#38ab38"/>
<rect x="380.15" y="279.7" width="2.98" height="0.3" fill="#e61317"/>
<rect x="380.15" y="280.0" width="2.98" height="101.9" fill="#2674b9"/>
<rect x="380.15" y="381.9" width="2.98" height="9.7" fill="#38ab38"/>
<rect x="381.64" y="279.7" width="2.98" height="22.4" fill="#e61317"/>
<rect x="381.64" y="302.1" width="2.98" height="81.7" fill="#2674b9"/>
<rect x="381.64" y="383.8" width="2.98" height="7.8" fill="#38ab38"/>
<rect x="383.14" y="279.7" width="2.98" height="25.7" fill="#e61317"/>
<rect x="383.14" y="305.4" width="2.98" height="68.6" fill="#2674b9"/>
<rect x="383.14" y="374.0" width="2.98" height="17.6" fill="#38ab38"/>
<rect x="384.63" y="279.7" width="2.98" height="22.2" fill="#e61317"/>
<rect x="384.63" y="301.9" width="2.98" height="81.1" fill="#2674b9"/>
<rect x="384.63" y="383.1" width="2.98" height="8.5" fill="#38ab38"/>
<rect x="386.12" y="279.7" width="2.98" height="22.6" fill="#e61317"/>
<rect x="386.12" y="302.3" width="2.98" height="79.0" fill="#2674b9"/>
<rect x="386.12" y="381.3" width="2.98" height="10.3" fill="#38ab38"/>
<rect x="387.61" y="279.7" width="2.98" height="9.8" fill="#e61317"/>
<rect x="387.61" y="289.5" width="2.98" height="80.5" fill="#2674b9"/>
<rect x="387.61" y="370.0" width="2.98" height="21.6" fill="#38ab38"/>
<rect x="389.11" y="279.7" width="2.98" height="26.9" fill="#e61317"/>
<rect x="389.11" y="306.6" width="2.98" height="74.8" fill="#2674b9"/>
<rect x="389.11" y="381.3" width="2.98" height="10.3" fill="#38ab38"/>
<rect x="390.60" y="279.7" width="2.98" height="30.0" fill="#e61317"/>
<rect x="390.60" y="309.7" width="2.98" height="74.2" fill="#2674b9"/>
<rect x="390.60" y="383.8" width="2.98" height="7.8" fill="#38ab38"/>
<rect x="392.09" y="279.7" width="2.98" height="31.3" fill="#e61317"/>
<rect x="392.09" y="311.0" width="2.98" height="70.9" fill="#2674b9"/>
<rect x="392.09" y="382.0" width="2.98" height="9.6" fill="#38ab38"/>
<rect x="393.58" y="279.7" width="2.98" height="14.1" fill="#e61317"/>
<rect x="393.58" y="293.8" width="2.98" height="90.0" fill="#2674b9"/>
<rect x="393.58" y="383.8" width="2.98" height="7.8" fill="#38ab38"/>
<rect x="395.08" y="279.7" width="2.98" height="13.1" fill="#e61317"/>
<rect x="395.08" y="292.8" width="2.98" height="79.6" fill="#2674b9"/>
<rect x="395.08" y="372.4" width="2.98" height="19.2" fill="#38ab38"/>
<rect x="396.57" y="279.7" width="2.98" height="12.1" fill="#e61317"/>
<rect x="396.57" y="291.8" width="2.98" height="81.6" fill="#2674b9"/>
<rect x="396.57" y="373.4" width="2.98" height="18.2" fill="#38ab38"/>
<rect x="398.06" y="279.7" width="2.98" height="12.3" fill="#e61317"/>
<rect x="398.06" y="292.0" width="2.98" height="79.5" fill="#2674b9"/>
<rect x="398.06" y="371.6" width="2.98" height="20.0" fill="#38ab38"/>
<rect x="399.55" y="279.7" width="2.98" height="8.3" fill="#e61317"/>
<rect x="399.55" y="288.0" width="2.98" height="84.6" fill="#2674b9"/>
<rect x="399.55" y="372.6" width="2.98" height="19.0" fill="#38ab38"/>
<rect x="401.05" y="279.7" width="2.98" height="20.3" fill="#e61317"/>
<rect x="401.05" y="300.0" width="2.98" height="71.2" fill="#2674b9"/>
<rect x="401.05" y="371.2" width="2.98" height="20.4" fill="#38ab38"/>
<rect x="402.54" y="279.7" width="2.98" height="15.9" fill="#e61317"/>
<rect x="402.54" y="295.6" width="2.98" height="76.6" fill="#2674b9"/>
<rect x="402.54" y="372.2" width="2.98" height="19.4" fill="#38ab38"/>
<rect x="404.03" y="279.7" width="2.98" height="10.3" fill="#e61317"/>
<rect x="404.03" y="290.0" width="2.98" height="82.1" fill="#2674b9"/>
<rect x="404.03" y="372.1" width="2.98" height="19.5" fill="#38ab38"/>
<rect x="405.52" y="279.7" width="2.98" height="11.6" fill="#e61317"/>
<rect x="405.52" y="291.3" width="2.98" height="81.1" fill="#2674b9"/>
<rect x="405.52" y="372.4" width="2.98" height="19.2" fill="#38ab38"/>
<rect x="407.02" y="279.7" width="2.98" height="15.6" fill="#e61317"/>
<rect x="407.02" y="295.3" width="2.98" height="96.3" fill="#2674b9"/>
<rect x="408.51" y="279.7" width="2.98" height="15.3" fill="#e61317"/>
<rect x="408.51" y="295.0" width="2.98" height="69.4" fill="#2674b9"/>
<rect x="408.51" y="364.4" width="2.98" height="27.2" fill="#38ab38"/>
<rect x="410.00" y="279.7" width="2.98" height="14.4" fill="#e61317"/>
<rect x="410.00" y="294.1" width="2.98" height="71.1" fill="#2674b9"/>
<rect x="410.00" y="365.2" width="2.98" height="26.4" fill="#38ab38"/>
<rect x="411.49" y="279.7" width="2.98" height="12.2" fill="#e61317"/>
<rect x="411.49" y="291.9" width="2.98" height="72.9" fill="#2674b9"/>
<rect x="411.49" y="364.8" width="2.98" height="26.8" fill="#38ab38"/>
<rect x="412.99" y="279.7" width="2.98" height="36.7" fill="#e61317"/>
<rect x="412.99" y="316.4" width="2.98" height="43.6" fill="#2674b9"/>
<rect x="412.99" y="360.0" width="2.98" height="31.6" fill="#38ab38"/>
<rect x="414.48" y="279.7" width="2.98" height="14.1" fill="#e61317"/>
<rect x="414.48" y="293.8" width="2.98" height="70.9" fill="#2674b9"/>
<rect x="414.48" y="364.8" width="2.98" height="26.8" fill="#38ab38"/>
<rect x="415.97" y="279.7" width="2.98" height="13.4" fill="#e61317"/>
<rect x="415.97" y="293.1" width="2.98" height="71.3" fill="#2674b9"/>
<rect x="415.97" y="364.4" width="2.98" height="27.2" fill="#38ab38"/>
<rect x="417.46" y="279.7" width="2.98" height="13.6" fill="#e61317"/>
<rect x="417.46" y="293.3" width="2.98" height="70.3" fill="#2674b9"/>
<rect x="417.46" y="363.6" width="2.98" height="28.0" fill="#38ab38"/>
<rect x="418.96" y="279.7" width="2.98" height="13.5" fill="#e61317"/>
<rect x="418.96" y="293.2" width="2.98" height="72.8" fill="#2674b9"/>
<rect x="418.96" y="366.0" width="2.98" height="25.6" fill="#38ab38"/>
<rect x="420.45" y="279.7" width="2.98" height="14.1" fill="#e61317"/>
<rect x="420.45" y="293.8" width="2.98" height="68.7" fill="#2674b9"/>
<rect x="420.45" y="362.5" width="2.98" height="29.1" fill="#38ab38"/>
<rect x="421.94" y="279.7" width="2.98" height="20.3" fill="#e61317"/>
<rect x="421.94" y="300.0" width="2.98" height="63.3" fill="#2674b9"/>
<rect x="421.94" y="363.3" width="2.98" height="28.3" fill="#38ab38"/>
<rect x="423.43" y="279.7" width="2.98" height="14.2" fill="#e61317"/>
<rect x="423.43" y="293.9" width="2.98" height="68.1" fill="#2674b9"/>
<rect x="423.43" y="362.0" width="2.98" height="29.6" fill="#38ab38"/>
<rect x="424.93" y="279.7" width="2.98" height="10.1" fill="#e61317"/>
<rect x="424.93" y="289.8" width="2.98" height="98.2" fill="#2674b9"/>
<rect x="424.93" y="388.1" width="2.98" height="3.5" fill="#38ab38"/>
<rect x="426.42" y="279.7" width="2.98" height="14.2" fill="#e61317"/>
<rect x="426.42" y="293.9" width="2.98" height="92.3" fill="#2674b9"/>
<rect x="426.42" y="386.2" width="2.98" height="5.4" fill="#38ab38"/>
<rect x="427.91" y="279.7" width="2.98" height="15.4" fill="#e61317"/>
<rect x="427.91" y="295.1" width="2.98" height="67.9" fill="#2674b9"/>
<rect x="427.91" y="363.0" width="2.98" height="28.6" fill="#38ab38"/>
<rect x="429.40" y="279.7" width="2.98" height="19.1" fill="#e61317"/>
<rect x="429.40" y="298.8" width="2.98" height="63.7" fill="#2674b9"/>
<rect x="429.40" y="362.5" width="2.98" height="29.1" fill="#38ab38"/>
<rect x="430.90" y="279.7" width="2.98" height="21.3" fill="#e61317"/>
<rect x="430.90" y="301.0" width="2.98" height="62.3" fill="#2674b9"/>
<rect x="430.90" y="363.2" width="2.98" height="28.4" fill="#38ab38"/>
<rect x="432.39" y="279.7" width="2.98" height="28.7" fill="#e61317"/>
<rect x="432.39" y="308.4" width="2.98" height="58.7" fill="#2674b9"/>
<rect x="432.39" y="367.1" width="2.98" height="24.5" fill="#38ab38"/>
<rect x="433.88" y="279.7" width="2.98" height="33.6" fill="#e61317"/>
<rect x="433.88" y="313.3" width="2.98" height="78.3" fill="#2674b9"/>
<rect x="435.37" y="279.7" width="2.98" height="43.6" fill="#e61317"/>
<rect x="435.37" y="323.3" width="2.98" height="68.3" fill="#2674b9"/>
<rect x="436.87" y="279.7" width="2.98" height="47.3" fill="#e61317"/>
<rect x="436.87" y="327.0" width="2.98" height="64.6" fill="#2674b9"/>
<rect x="438.36" y="279.7" width="2.98" height="48.2" fill="#e61317"/>
<rect x="438.36" y="327.9" width="2.98" height="63.7" fill="#2674b9"/>
<rect x="439.85" y="279.7" width="2.98" height="21.0" fill="#e61317"/>
<rect x="439.85" y="300.7" width="2.98" height="61.3" fill="#2674b9"/>
<rect x="439.85" y="362.0" width="2.98" height="29.6" fill="#38ab38"/>
<rect x="441.34" y="279.7" width="2.98" height="49.9" fill="#e61317"/>
<rect x="441.34" y="329.6" width="2.98" height="62.0" fill="#2674b9"/>
<rect x="442.84" y="279.7" width="2.98" height="21.0" fill="#e61317"/>
<rect x="442.84" y="300.7" width="2.98" height="61.3" fill="#2674b9"/>
<rect x="442.84" y="362.0" width="2.98" height="29.6" fill="#38ab38"/>
<rect x="444.33" y="279.7" width="2.98" height="51.4" fill="#e61317"/>
<rect x="444.33" y="331.1" width="2.98" height="60.5" fill="#2674b9"/>
<rect x="445.82" y="279.7" width="2.98" height="51.8" fill="#e61317"/>
<rect x="445.82" y="331.5" width="2.98" height="60.1" fill="#2674b9"/>
<rect x="447.31" y="279.7" width="2.98" height="52.1" fill="#e61317"/>
<rect x="447.31" y="331.8" width="2.98" height="59.8" fill="#2674b9"/>
<rect x="448.81" y="279.7" width="2.98" height="52.5" fill="#e61317"/>
<rect x="448.81" y="332.2" width="2.98" height="59.4" fill="#2674b9"/>
<rect x="450.30" y="279.7" width="2.98" height="52.8" fill="#e61317"/>
<rect x="450.30" y="332.5" width="2.98" height="59.1" fill="#2674b9"/>
<rect x="451.79" y="279.7" width="2.98" height="53.2" fill="#e61317"/>
<rect x="451.79" y="332.9" width="2.98" height="58.7" fill="#2674b9"/>
<rect x="453.28" y="279.7" width="2.98" height="53.5" fill="#e61317"/>
<rect x="453.28" y="333.2" width="2.98" height="58.4" fill="#2674b9"/>
<rect x="454.78" y="279.7" width="2.98" height="42.3" fill="#e61317"/>
<rect x="454.78" y="322.0" width="2.98" height="69.6" fill="#2674b9"/>
<rect x="456.27" y="279.7" width="2.98" height="54.0" fill="#e61317"/>
<rect x="456.27" y="333.7" width="2.98" height="57.9" fill="#2674b9"/>
<rect x="457.76" y="279.7" width="2.98" height="54.1" fill="#e61317"/>
<rect x="457.76" y="333.8" width="2.98" height="57.8" fill="#2674b9"/>
<rect x="459.25" y="279.7" width="2.98" height="54.2" fill="#e61317"/>
<rect x="459.25" y="333.9" width="2.98" height="57.7" fill="#2674b9"/>
<rect x="460.75" y="279.7" width="2.98" height="54.3" fill="#e61317"/>
<rect x="460.75" y="334.0" width="2.98" height="57.6" fill="#2674b9"/>
<rect x="462.24" y="279.7" width="2.98" height="54.5" fill="#e61317"/>
<rect x="462.24" y="334.2" width="2.98" height="57.4" fill="#2674b9"/>
<rect x="463.73" y="279.7" width="2.98" height="54.6" fill="#e61317"/>
<rect x="463.73" y="334.3" width="2.98" height="57.3" fill="#2674b9"/>
<rect x="465.22" y="279.7" width="2.98" height="54.7" fill="#e61317"/>
<rect x="465.22" y="334.4" width="2.98" height="57.2" fill="#2674b9"/>
<rect x="466.72" y="279.7" width="2.98" height="54.8" fill="#e61317"/>
<rect x="466.72" y="334.5" width="2.98" height="57.1" fill="#2674b9"/>
<rect x="468.21" y="279.7" width="2.98" height="54.9" fill="#e61317"/>
<rect x="468.21" y="334.6" width="2.98" height="57.0" fill="#2674b9"/>
<rect x="469.70" y="279.7" width="2.98" height="55.0" fill="#e61317"/>
<rect x="469.70" y="334.7" width="2.98" height="56.9" fill="#2674b9"/>
<rect x="471.19" y="279.7" width="2.98" height="32.3" fill="#e61317"/>
<rect x="471.19" y="312.0" width="2.98" height="57.0" fill="#2674b9"/>
<rect x="471.19" y="369.0" width="2.98" height="22.6" fill="#38ab38"/>
<rect x="472.69" y="279.7" width="2.98" height="55.3" fill="#e61317"/>
<rect x="472.69" y="335.0" width="2.98" height="56.6" fill="#2674b9"/>
<rect x="474.18" y="279.7" width="2.98" height="55.4" fill="#e61317"/>
<rect x="474.18" y="335.1" width="2.98" height="56.5" fill="#2674b9"/>
<rect x="475.67" y="279.7" width="2.98" height="55.5" fill="#e61317"/>
<rect x="475.67" y="335.2" width="2.98" height="56.4" fill="#2674b9"/>
<rect x="477.16" y="279.7" width="2.98" height="55.6" fill="#e61317"/>
<rect x="477.16" y="335.3" width="2.98" height="56.3" fill="#2674b9"/>
<rect x="478.66" y="279.7" width="2.98" height="55.7" fill="#e61317"/>
<rect x="478.66" y="335.4" width="2.98" height="56.2" fill="#2674b9"/>
<rect x="480.15" y="279.7" width="2.98" height="36.7" fill="#e61317"/>
<rect x="480.15" y="316.4" width="2.98" height="50.3" fill="#2674b9"/>
<rect x="480.15" y="366.7" width="2.98" height="24.9" fill="#38ab38"/>
<rect x="481.64" y="279.7" width="2.98" height="36.7" fill="#e61317"/>
<rect x="481.64" y="316.4" width="2.98" height="50.3" fill="#2674b9"/>
<rect x="481.64" y="366.7" width="2.98" height="24.9" fill="#38ab38"/>
<rect x="483.13" y="279.7" width="2.98" height="111.9" fill="#38ab38"/>
<rect x="484.63" y="279.7" width="2.98" height="111.9" fill="#38ab38"/>
<rect x="486.12" y="279.7" width="2.98" height="111.9" fill="#38ab38"/>
<rect x="487.61" y="279.7" width="2.98" height="111.9" fill="#38ab38"/>
<rect x="489.10" y="279.7" width="2.98" height="111.9" fill="#38ab38"/>
<rect x="490.60" y="279.7" width="2.98" height="111.9" fill="#38ab38"/>
<rect x="492.09" y="279.7" width="2.98" height="111.9" fill="#38ab38"/>
<rect x="493.58" y="279.7" width="2.98" height="111.9" fill="#38ab38"/>
<rect x="495.07" y="279.7" width="2.98" height="111.9" fill="#38ab38"/>
<rect x="496.57" y="279.7" width="2.98" height="111.9" fill="#38ab38"/>
<rect x="498.06" y="279.7" width="2.98" height="111.9" fill="#38ab38"/>
<rect x="499.55" y="279.7" width="2.98" height="111.9" fill="#38ab38"/>
<rect x="501.04" y="279.7" width="2.98" height="111.9" fill="#38ab38"/>
<rect x="502.54" y="279.7" width="2.98" height="111.9" fill="#38ab38"/>
<rect x="504.03" y="279.7" width="2.98" height="111.9" fill="#38ab38"/>
<rect x="505.52" y="279.7" width="2.98" height="111.9" fill="#38ab38"/>
<rect x="507.01" y="279.7" width="2.98" height="111.9" fill="#38ab38"/>
<rect x="508.51" y="279.7" width="2.98" height="111.9" fill="#38ab38"/>
<rect x="510.00" y="279.7" width="2.98" height="111.9" fill="#38ab38"/>
<rect x="511.49" y="279.7" width="2.98" height="111.9" fill="#38ab38"/>
<rect x="512.99" y="279.7" width="2.98" height="111.9" fill="#38ab38"/>
<rect x="514.48" y="279.7" width="2.98" height="111.9" fill="#38ab38"/>
<rect x="515.97" y="279.7" width="2.98" height="111.9" fill="#38ab38"/>
<rect x="517.46" y="279.7" width="2.98" height="111.9" fill="#38ab38"/>
<rect x="518.96" y="279.7" width="2.98" height="111.9" fill="#38ab38"/>
<rect x="520.45" y="279.7" width="2.98" height="111.9" fill="#38ab38"/>
<rect x="521.94" y="279.7" width="2.98" height="111.9" fill="#38ab38"/>
<rect x="523.43" y="279.7" width="2.98" height="111.9" fill="#38ab38"/>
<rect x="524.92" y="279.7" width="2.98" height="111.9" fill="#38ab38"/>
<rect x="526.42" y="279.7" width="2.98" height="111.9" fill="#38ab38"/>
<rect x="527.91" y="279.7" width="2.98" height="111.9" fill="#38ab38"/>
<rect x="529.40" y="279.7" width="2.98" height="111.9" fill="#38ab38"/>
<rect x="530.89" y="279.7" width="2.98" height="111.9" fill="#38ab38"/>
<rect x="532.39" y="279.7" width="2.98" height="111.9" fill="#38ab38"/>
<rect x="533.88" y="279.7" width="2.98" height="111.9" fill="#38ab38"/>
<rect x="535.37" y="279.7" width="2.98" height="111.9" fill="#38ab38"/>
<rect x="536.87" y="279.7" width="2.98" height="111.9" fill="#38ab38"/>
<rect x="538.36" y="279.7" width="2.98" height="111.9" fill="#38ab38"/>
<rect x="539.85" y="279.7" width="2.98" height="111.9" fill="#38ab38"/>
<rect x="541.34" y="279.7" width="2.98" height="111.9" fill="#38ab38"/>
<rect x="542.84" y="279.7" width="2.98" height="111.9" fill="#38ab38"/>
<rect x="544.33" y="279.7" width="2.98" height="19.7" fill="#e61317"/>
<rect x="544.33" y="299.4" width="2.98" height="92.2" fill="#38ab38"/>
<rect x="545.82" y="279.7" width="2.98" height="24.2" fill="#e61317"/>
<rect x="545.82" y="303.9" width="2.98" height="87.7" fill="#38ab38"/>
<rect x="547.31" y="279.7" width="2.98" height="27.0" fill="#e61317"/>
<rect x="547.31" y="306.7" width="2.98" height="84.9" fill="#38ab38"/>
<rect x="548.80" y="279.7" width="2.98" height="29.7" fill="#e61317"/>
<rect x="548.80" y="309.4" width="2.98" height="82.2" fill="#38ab38"/>
<rect x="550.30" y="279.7" width="2.98" height="32.3" fill="#e61317"/>
<rect x="550.30" y="312.0" width="2.98" height="79.6" fill="#38ab38"/>
<rect x="551.79" y="279.7" width="2.98" height="32.8" fill="#e61317"/>
<rect x="551.79" y="312.5" width="2.98" height="79.1" fill="#38ab38"/>
<rect x="553.28" y="279.7" width="2.98" height="4.3" fill="#e61317"/>
<rect x="553.28" y="284.0" width="2.98" height="29.0" fill="#2674b9"/>
<rect x="553.28" y="313.0" width="2.98" height="78.6" fill="#38ab38"/>
<rect x="554.77" y="279.7" width="2.98" height="33.8" fill="#e61317"/>
<rect x="554.77" y="313.5" width="2.98" height="78.1" fill="#38ab38"/>
<rect x="556.27" y="279.7" width="2.98" height="1.3" fill="#e61317"/>
<rect x="556.27" y="281.0" width="2.98" height="33.0" fill="#2674b9"/>
<rect x="556.27" y="314.0" width="2.98" height="77.6" fill="#38ab38"/>
<rect x="557.76" y="279.7" width="2.98" height="34.7" fill="#e61317"/>
<rect x="557.76" y="314.4" width="2.98" height="77.2" fill="#38ab38"/>
<rect x="559.25" y="279.7" width="2.98" height="31.3" fill="#e61317"/>
<rect x="559.25" y="311.0" width="2.98" height="3.9" fill="#2674b9"/>
<rect x="559.25" y="314.9" width="2.98" height="76.7" fill="#38ab38"/>
<rect x="560.75" y="279.7" width="2.98" height="35.7" fill="#e61317"/>
<rect x="560.75" y="315.4" width="2.98" height="76.2" fill="#38ab38"/>
<rect x="562.24" y="279.7" width="2.98" height="36.2" fill="#e61317"/>
<rect x="562.24" y="315.9" width="2.98" height="75.7" fill="#38ab38"/>
<rect x="563.73" y="279.7" width="2.98" height="36.7" fill="#e61317"/>
<rect x="563.73" y="316.4" width="2.98" height="75.2" fill="#38ab38"/>
<rect x="565.22" y="279.7" width="2.98" height="2.0" fill="#e61317"/>
<rect x="565.22" y="281.7" width="2.98" height="35.9" fill="#2674b9"/>
<rect x="565.22" y="317.6" width="2.98" height="74.0" fill="#38ab38"/>
<rect x="566.71" y="279.7" width="2.98" height="39.2" fill="#e61317"/>
<rect x="566.71" y="318.9" width="2.98" height="72.7" fill="#38ab38"/>
<rect x="568.21" y="279.7" width="2.98" height="40.4" fill="#e61317"/>
<rect x="568.21" y="320.1" width="2.98" height="71.5" fill="#38ab38"/>
<rect x="569.70" y="279.7" width="2.98" height="2.0" fill="#e61317"/>
<rect x="569.70" y="281.7" width="2.98" height="39.4" fill="#2674b9"/>
<rect x="569.70" y="321.1" width="2.98" height="70.5" fill="#38ab38"/>
<rect x="571.19" y="279.7" width="2.98" height="3.3" fill="#e61317"/>
<rect x="571.19" y="283.0" width="2.98" height="38.6" fill="#2674b9"/>
<rect x="571.19" y="321.6" width="2.98" height="70.0" fill="#38ab38"/>
<rect x="572.68" y="279.7" width="2.98" height="10.3" fill="#e61317"/>
<rect x="572.68" y="290.0" width="2.98" height="32.1" fill="#2674b9"/>
<rect x="572.68" y="322.1" width="2.98" height="69.5" fill="#38ab38"/>
<rect x="574.18" y="279.7" width="2.98" height="20.3" fill="#e61317"/>
<rect x="574.18" y="300.0" width="2.98" height="22.6" fill="#2674b9"/>
<rect x="574.18" y="322.6" width="2.98" height="69.0" fill="#38ab38"/>
<rect x="575.67" y="279.7" width="2.98" height="31.3" fill="#e61317"/>
<rect x="575.67" y="311.0" width="2.98" height="12.1" fill="#2674b9"/>
<rect x="575.67" y="323.1" width="2.98" height="68.5" fill="#38ab38"/>
<rect x="577.16" y="279.7" width="2.98" height="43.9" fill="#e61317"/>
<rect x="577.16" y="323.6" width="2.98" height="68.0" fill="#38ab38"/>
<rect x="578.65" y="279.7" width="2.98" height="44.4" fill="#e61317"/>
<rect x="578.65" y="324.1" width="2.98" height="67.5" fill="#38ab38"/>
<rect x="580.15" y="279.7" width="2.98" height="44.9" fill="#e61317"/>
<rect x="580.15" y="324.6" width="2.98" height="67.0" fill="#38ab38"/>
<rect x="581.64" y="279.7" width="2.98" height="45.4" fill="#e61317"/>
<rect x="581.64" y="325.1" width="2.98" height="66.5" fill="#38ab38"/>
<rect x="583.13" y="279.7" width="2.98" height="6.3" fill="#e61317"/>
<rect x="583.13" y="286.0" width="2.98" height="39.6" fill="#2674b9"/>
<rect x="583.13" y="325.6" width="2.98" height="66.0" fill="#38ab38"/>
<rect x="584.62" y="279.7" width="2.98" height="46.4" fill="#e61317"/>
<rect x="584.62" y="326.1" width="2.98" height="65.5" fill="#38ab38"/>
<rect x="586.12" y="279.7" width="2.98" height="12.1" fill="#e61317"/>
<rect x="586.12" y="291.8" width="2.98" height="34.7" fill="#2674b9"/>
<rect x="586.12" y="326.5" width="2.98" height="65.1" fill="#38ab38"/>
<rect x="587.61" y="279.7" width="2.98" height="47.3" fill="#e61317"/>
<rect x="587.61" y="327.0" width="2.98" height="64.6" fill="#38ab38"/>
<rect x="589.10" y="279.7" width="2.98" height="47.8" fill="#e61317"/>
<rect x="589.10" y="327.5" width="2.98" height="64.1" fill="#38ab38"/>
<rect x="590.59" y="279.7" width="2.98" height="48.3" fill="#e61317"/>
<rect x="590.59" y="328.0" width="2.98" height="63.6" fill="#38ab38"/>
<rect x="592.09" y="279.7" width="2.98" height="48.8" fill="#e61317"/>
<rect x="592.09" y="328.5" width="2.98" height="63.1" fill="#38ab38"/>
<rect x="593.58" y="279.7" width="2.98" height="49.3" fill="#e61317"/>
<rect x="593.58" y="329.0" width="2.98" height="62.6" fill="#38ab38"/>
<rect x="595.07" y="279.7" width="2.98" height="49.8" fill="#e61317"/>
<rect x="595.07" y="329.5" width="2.98" height="62.1" fill="#38ab38"/>
<rect x="596.56" y="279.7" width="2.98" height="50.3" fill="#e61317"/>
<rect x="596.56" y="330.0" width="2.98" height="61.6" fill="#38ab38"/>
<rect x="598.06" y="279.7" width="2.98" height="50.7" fill="#e61317"/>
<rect x="598.06" y="330.4" width="2.98" height="61.2" fill="#38ab38"/>
<rect x="599.55" y="279.7" width="2.98" height="51.2" fill="#e61317"/>
<rect x="599.55" y="330.9" width="2.98" height="60.7" fill="#38ab38"/>
<rect x="601.04" y="279.7" width="2.98" height="51.7" fill="#e61317"/>
<rect x="601.04" y="331.4" width="2.98" height="60.2" fill="#38ab38"/>
<rect x="602.53" y="279.7" width="2.98" height="52.1" fill="#e61317"/>
<rect x="602.53" y="331.8" width="2.98" height="59.8" fill="#38ab38"/>
<rect x="604.03" y="279.7" width="2.98" height="52.6" fill="#e61317"/>
<rect x="604.03" y="332.3" width="2.98" height="59.3" fill="#38ab38"/>
<rect x="605.52" y="279.7" width="2.98" height="27.9" fill="#e61317"/>
<rect x="605.52" y="307.6" width="2.98" height="25.2" fill="#2674b9"/>
<rect x="605.52" y="332.8" width="2.98" height="58.8" fill="#38ab38"/>
<rect x="607.01" y="279.7" width="2.98" height="53.6" fill="#e61317"/>
<rect x="607.01" y="333.3" width="2.98" height="58.3" fill="#38ab38"/>
<rect x="608.50" y="279.7" width="2.98" height="54.1" fill="#e61317"/>
<rect x="608.50" y="333.8" width="2.98" height="57.8" fill="#38ab38"/>
<rect x="610.00" y="279.7" width="2.98" height="42.3" fill="#e61317"/>
<rect x="610.00" y="322.0" width="2.98" height="12.6" fill="#2674b9"/>
<rect x="610.00" y="334.6" width="2.98" height="57.0" fill="#38ab38"/>
<rect x="611.49" y="279.7" width="2.98" height="55.7" fill="#e61317"/>
<rect x="611.49" y="335.4" width="2.98" height="56.2" fill="#38ab38"/>
<rect x="612.98" y="279.7" width="2.98" height="56.4" fill="#e61317"/>
<rect x="612.98" y="336.1" width="2.98" height="55.5" fill="#38ab38"/>
<rect x="614.47" y="279.7" width="2.98" height="21.9" fill="#e61317"/>
<rect x="614.47" y="301.6" width="2.98" height="35.8" fill="#2674b9"/>
<rect x="614.47" y="337.4" width="2.98" height="54.2" fill="#38ab38"/>
<rect x="615.97" y="279.7" width="2.98" height="21.9" fill="#e61317"/>
<rect x="615.97" y="301.6" width="2.98" height="39.7" fill="#2674b9"/>
<rect x="615.97" y="341.3" width="2.98" height="50.3" fill="#38ab38"/>
<rect x="617.46" y="279.7" width="2.98" height="36.3" fill="#e61317"/>
<rect x="617.46" y="316.0" width="2.98" height="27.7" fill="#2674b9"/>
<rect x="617.46" y="343.7" width="2.98" height="47.9" fill="#38ab38"/>
<rect x="618.95" y="279.7" width="2.98" height="34.3" fill="#e61317"/>
<rect x="618.95" y="314.0" width="2.98" height="31.2" fill="#2674b9"/>
<rect x="618.95" y="345.2" width="2.98" height="46.4" fill="#38ab38"/>
<rect x="620.44" y="279.7" width="2.98" height="36.3" fill="#e61317"/>
<rect x="620.44" y="316.0" width="2.98" height="30.7" fill="#2674b9"/>
<rect x="620.44" y="346.7" width="2.98" height="44.9" fill="#38ab38"/>
<rect x="621.94" y="279.7" width="2.98" height="37.3" fill="#e61317"/>
<rect x="621.94" y="317.0" width="2.98" height="30.9" fill="#2674b9"/>
<rect x="621.94" y="347.9" width="2.98" height="43.7" fill="#38ab38"/>
<rect x="623.43" y="279.7" width="2.98" height="35.3" fill="#e61317"/>
<rect x="623.43" y="315.0" width="2.98" height="33.5" fill="#2674b9"/>
<rect x="623.43" y="348.5" width="2.98" height="43.1" fill="#38ab38"/>
<rect x="624.92" y="279.7" width="2.98" height="37.3" fill="#e61317"/>
<rect x="624.92" y="317.0" width="2.98" height="32.1" fill="#2674b9"/>
<rect x="624.92" y="349.1" width="2.98" height="42.5" fill="#38ab38"/>
<rect x="626.41" y="279.7" width="2.98" height="36.3" fill="#e61317"/>
<rect x="626.41" y="316.0" width="2.98" height="33.7" fill="#2674b9"/>
<rect x="626.41" y="349.7" width="2.98" height="41.9" fill="#38ab38"/>
<rect x="627.91" y="279.7" width="1.49" height="70.6" fill="#e61317"/>
<rect x="627.91" y="350.3" width="1.49" height="41.3" fill="#38ab38"/>
<path d="M33.89 279.7V391.6M36.88 279.7V391.6M41.35 279.7V391.6M42.85 279.7V391.6M45.83 279.7V391.6M47.32 279.7V391.6M50.31 279.7V391.6M53.30 279.7V391.6M56.28 279.7V391.6M65.23 279.7V391.6M69.71 279.7V391.6M71.20 279.7V391.6M74.19 279.7V391.6M81.65 279.7V391.6M84.64 279.7V391.6M89.11 279.7V391.6M90.61 279.7V391.6M92.10 279.7V391.6M95.08 279.7V391.6M98.07 279.7V391.6M101.06 279.7V391.6M102.55 279.7V391.6M115.98 279.7V391.6M124.94 279.7V391.6M129.41 279.7V391.6M130.91 279.7V391.6M135.38 279.7V391.6M138.37 279.7V391.6M139.86 279.7V391.6M141.35 279.7V391.6M145.83 279.7V391.6M148.81 279.7V391.6M151.80 279.7V391.6M159.26 279.7V391.6M160.75 279.7V391.6M163.74 279.7V391.6M165.23 279.7V391.6M166.72 279.7V391.6M169.71 279.7V391.6M171.20 279.7V391.6M174.19 279.7V391.6M178.66 279.7V391.6M180.16 279.7V391.6M192.10 279.7V391.6M195.08 279.7V391.6M196.57 279.7V391.6M202.54 279.7V391.6M204.04 279.7V391.6M207.02 279.7V391.6M211.50 279.7V391.6M214.48 279.7V391.6M217.47 279.7V391.6M221.95 279.7V391.6M223.44 279.7V391.6M227.92 279.7V391.6M229.41 279.7V391.6M232.40 279.7V391.6M233.89 279.7V391.6M235.38 279.7V391.6M236.87 279.7V391.6M239.86 279.7V391.6M241.35 279.7V391.6M244.34 279.7V391.6M248.81 279.7V391.6M250.31 279.7V391.6M253.29 279.7V391.6M254.78 279.7V391.6M256.27 279.7V391.6M259.26 279.7V391.6M260.75 279.7V391.6M262.25 279.7V391.6M265.23 279.7V391.6M268.21 279.7V391.6M269.71 279.7V391.6M274.19 279.7V391.6M275.68 279.7V391.6M277.17 279.7V391.6M280.15 279.7V391.6M284.63 279.7V391.6M286.12 279.7V391.6M292.09 279.7V391.6M293.59 279.7V391.6M295.08 279.7V391.6M298.06 279.7V391.6M299.56 279.7V391.6M301.05 279.7V391.6M302.54 279.7V391.6M304.03 279.7V391.6M307.02 279.7V391.6M308.51 279.7V391.6M314.48 279.7V391.6M318.96 279.7V391.6M326.42 279.7V391.6M327.91 279.7V391.6M329.41 279.7V391.6M330.90 279.7V391.6M333.88 279.7V391.6M336.87 279.7V391.6M347.32 279.7V391.6M350.30 279.7V391.6M351.79 279.7V391.6M356.27 279.7V391.6M360.75 279.7V391.6M362.24 279.7V391.6M365.23 279.7V391.6M368.21 279.7V391.6M369.70 279.7V391.6M374.18 279.7V391.6M381.64 279.7V391.6M386.12 279.7V391.6M387.61 279.7V391.6M389.11 279.7V391.6M392.09 279.7V391.6M393.58 279.7V391.6M396.57 279.7V391.6M398.06 279.7V391.6M399.55 279.7V391.6M401.05 279.7V391.6M402.54 279.7V391.6M407.02 279.7V391.6M410.00 279.7V391.6M411.49 279.7V391.6M412.99 279.7V391.6M417.46 279.7V391.6M418.96 279.7V391.6M420.45 279.7V391.6M421.94 279.7V391.6M426.42 279.7V391.6M427.91 279.7V391.6M429.40 279.7V391.6M430.90 279.7V391.6M435.37 279.7V391.6M439.85 279.7V391.6M441.34 279.7V391.6M442.84 279.7V391.6M445.82 279.7V391.6M448.81 279.7V391.6M450.30 279.7V391.6M454.78 279.7V391.6M456.27 279.7V391.6M457.76 279.7V391.6M462.24 279.7V391.6M466.72 279.7V391.6M468.21 279.7V391.6M469.70 279.7V391.6M481.64 279.7V391.6M484.63 279.7V391.6M486.12 279.7V391.6M489.10 279.7V391.6M490.60 279.7V391.6M492.09 279.7V391.6M495.07 279.7V391.6M496.57 279.7V391.6M499.55 279.7V391.6M510.00 279.7V391.6M515.97 279.7V391.6M520.45 279.7V391.6M521.94 279.7V391.6M526.42 279.7V391.6M527.91 279.7V391.6M529.40 279.7V391.6M533.88 279.7V391.6M535.37 279.7V391.6M536.87 279.7V391.6M538.36 279.7V391.6M539.85 279.7V391.6M541.34 279.7V391.6M545.82 279.7V391.6M548.80 279.7V391.6M556.27 279.7V391.6M560.75 279.7V391.6M562.24 279.7V391.6M568.21 279.7V391.6M571.19 279.7V391.6M572.68 279.7V391.6M574.18 279.7V391.6M577.16 279.7V391.6M578.65 279.7V391.6M583.13 279.7V391.6M586.12 279.7V391.6M590.59 279.7V391.6M592.09 279.7V391.6M593.58 279.7V391.6M595.07 279.7V391.6M596.56 279.7V391.6M598.06 279.7V391.6M599.55 279.7V391.6M601.04 279.7V391.6M604.03 279.7V391.6M607.01 279.7V391.6M610.00 279.7V391.6M615.97 279.7V391.6M620.44 279.7V391.6M624.92 279.7V391.6M626.41 279.7V391.6M627.91 279.7V391.6" stroke="#fff" stroke-opacity="0.12" stroke-width="0.7" fill="none"/>
<rect x="32.4" y="279.7" width="597.0" height="111.90000000000003" fill="none" stroke="#8a8a8a" stroke-width="0.6"/>
<text x="47" y="302.7" font-size="14.5" fill="#111">K = 3</text>
</g>
<line x1="30.4" y1="279.7" x2="32.4" y2="279.7" stroke="#444" stroke-width="0.5"/>
<text x="29.4" y="281.8" font-size="5" text-anchor="end" fill="#222" textLength="8.4" lengthAdjust="spacingAndGlyphs">1.00</text>
<line x1="30.4" y1="307.7" x2="32.4" y2="307.7" stroke="#444" stroke-width="0.5"/>
<text x="29.4" y="309.8" font-size="5" text-anchor="end" fill="#222" textLength="8.4" lengthAdjust="spacingAndGlyphs">0.75</text>
<line x1="30.4" y1="335.6" x2="32.4" y2="335.6" stroke="#444" stroke-width="0.5"/>
<text x="29.4" y="337.8" font-size="5" text-anchor="end" fill="#222" textLength="8.4" lengthAdjust="spacingAndGlyphs">0.50</text>
<line x1="30.4" y1="363.6" x2="32.4" y2="363.6" stroke="#444" stroke-width="0.5"/>
<text x="29.4" y="365.7" font-size="5" text-anchor="end" fill="#222" textLength="8.4" lengthAdjust="spacingAndGlyphs">0.25</text>
<line x1="30.4" y1="391.6" x2="32.4" y2="391.6" stroke="#444" stroke-width="0.5"/>
<text x="29.4" y="393.7" font-size="5" text-anchor="end" fill="#222" textLength="8.4" lengthAdjust="spacingAndGlyphs">0.00</text>
<line x1="30.4" y1="403.0" x2="32.4" y2="403.0" stroke="#444" stroke-width="0.5"/>
<text x="29.4" y="405.1" font-size="5" text-anchor="end" fill="#222" textLength="8.4" lengthAdjust="spacingAndGlyphs">1.00</text>
<line x1="30.4" y1="430.9" x2="32.4" y2="430.9" stroke="#444" stroke-width="0.5"/>
<text x="29.4" y="433.0" font-size="5" text-anchor="end" fill="#222" textLength="8.4" lengthAdjust="spacingAndGlyphs">0.75</text>
<line x1="30.4" y1="458.7" x2="32.4" y2="458.7" stroke="#444" stroke-width="0.5"/>
<text x="29.4" y="460.8" font-size="5" text-anchor="end" fill="#222" textLength="8.4" lengthAdjust="spacingAndGlyphs">0.50</text>
<line x1="30.4" y1="486.5" x2="32.4" y2="486.5" stroke="#444" stroke-width="0.5"/>
<text x="29.4" y="488.6" font-size="5" text-anchor="end" fill="#222" textLength="8.4" lengthAdjust="spacingAndGlyphs">0.25</text>
<line x1="30.4" y1="514.4" x2="32.4" y2="514.4" stroke="#444" stroke-width="0.5"/>
<text x="29.4" y="516.5" font-size="5" text-anchor="end" fill="#222" textLength="8.4" lengthAdjust="spacingAndGlyphs">0.00</text>
<text x="638.3" y="315.4" font-size="8.8" fill="#111" textLength="31.5" lengthAdjust="spacingAndGlyphs">Clusters</text>
<rect x="642.8" y="321.0" width="13.4" height="12.7" fill="#e61317"/>
<text x="661.2" y="330.5" font-size="8.6" fill="#333">I</text>
<rect x="642.8" y="335.1" width="13.4" height="12.7" fill="#2674b9"/>
<text x="661.2" y="344.6" font-size="8.6" fill="#333">II</text>
<rect x="642.8" y="349.2" width="13.4" height="12.7" fill="#38ab38"/>
<text x="661.2" y="358.7" font-size="8.6" fill="#333">III</text>
<text x="4.8" y="282.6" font-size="13.7" font-weight="bold" fill="#111">B</text>
<text transform="translate(12.4,398) rotate(-90)" font-size="14.2" text-anchor="middle" fill="#111">Probability of membership</text>
<text x="351" y="531.6" font-size="14.5" text-anchor="middle" fill="#111">Genotypes</text>
<g id="k11">
<rect x="32.30" y="403.0" width="34.80" height="111.4" fill="#7fc97f"/>
<rect x="66.90" y="403.0" width="96.50" height="111.4" fill="#beaed4"/>
<rect x="163.20" y="403.0" width="17.90" height="111.4" fill="#fdc086"/>
<rect x="180.90" y="403.0" width="66.10" height="111.4" fill="#ffff99"/>
<rect x="246.80" y="403.0" width="53.00" height="111.4" fill="#f0027f"/>
<rect x="299.60" y="403.0" width="115.70" height="111.4" fill="#c25515"/>
<rect x="415.10" y="403.0" width="55.30" height="111.4" fill="#666666"/>
<rect x="470.20" y="403.0" width="35.50" height="111.4" fill="#a9db5c"/>
<rect x="505.50" y="403.0" width="18.40" height="111.4" fill="#2f68b4"/>
<rect x="523.70" y="403.0" width="35.40" height="111.4" fill="#d9d9d9"/>
<rect x="558.90" y="403.0" width="70.60" height="111.4" fill="#ffec6a"/>
<polygon points="49.2,514.4 49.2,463.0 52.0,461.3 58.8,461.3 58.8,514.4" fill="#beaed4"/>
<rect x="50.60" y="471.0" width="1.00" height="43.4" fill="#a9db5c"/>
<rect x="53.00" y="484.0" width="1.00" height="30.4" fill="#c8d96a"/>
<rect x="55.20" y="460.0" width="1.70" height="20.0" fill="#e8dfc2"/>
<rect x="55.20" y="480.0" width="1.70" height="34.4" fill="#9a9a9a"/>
<rect x="57.50" y="484.0" width="1.00" height="30.4" fill="#a9db5c"/>
<rect x="58.80" y="457.0" width="3.20" height="46.0" fill="#f0027f"/>
<rect x="58.80" y="503.0" width="3.20" height="11.4" fill="#d9d9d9"/>
<polygon points="62.0,470.0 62.0,452.0 63.5,449.0 65.0,443.6 66.5,450.0 66.5,470.0" fill="#2f68b4"/>
<rect x="62.00" y="470.0" width="4.50" height="17.0" fill="#f0027f"/>
<rect x="62.00" y="487.0" width="4.50" height="27.4" fill="#ffec6a"/>
<rect x="62.30" y="486.0" width="2.20" height="6.0" fill="#d9d9d9"/>
<rect x="62.00" y="403.0" width="4.50" height="41.0" fill="#7fc97f"/>
<rect x="66.00" y="437.0" width="0.90" height="33.0" fill="#fdc086"/>
<rect x="66.40" y="470.0" width="0.80" height="44.4" fill="#beaed4"/>
<rect x="106.40" y="403.0" width="3.40" height="5.0" fill="#7fc97f"/>
<rect x="110.01" y="403.0" width="1.94" height="4.6" fill="#7fc97f"/>
<rect x="113.00" y="403.0" width="1.94" height="4.3" fill="#7fc97f"/>
<rect x="114.49" y="403.0" width="1.94" height="2.5" fill="#7fc97f"/>
<rect x="115.98" y="403.0" width="1.94" height="5.0" fill="#7fc97f"/>
<rect x="118.97" y="403.0" width="1.94" height="3.2" fill="#7fc97f"/>
<rect x="120.46" y="403.0" width="1.94" height="6.0" fill="#7fc97f"/>
<rect x="121.95" y="403.0" width="1.94" height="1.7" fill="#7fc97f"/>
<rect x="126.43" y="403.0" width="1.94" height="4.9" fill="#7fc97f"/>
<rect x="127.92" y="403.0" width="1.94" height="1.6" fill="#7fc97f"/>
<rect x="129.41" y="403.0" width="1.94" height="1.8" fill="#7fc97f"/>
<rect x="130.91" y="403.0" width="1.94" height="2.8" fill="#7fc97f"/>
<rect x="132.40" y="403.0" width="1.94" height="4.1" fill="#7fc97f"/>
<rect x="133.89" y="403.0" width="1.94" height="6.1" fill="#7fc97f"/>
<rect x="135.38" y="403.0" width="1.94" height="52.0" fill="#7fc97f"/>
<rect x="136.88" y="403.0" width="1.94" height="18.0" fill="#7fc97f"/>
<rect x="138.37" y="403.0" width="1.94" height="8.0" fill="#7fc97f"/>
<rect x="139.86" y="403.0" width="1.94" height="9.0" fill="#7fc97f"/>
<rect x="141.35" y="403.0" width="1.94" height="11.0" fill="#7fc97f"/>
<rect x="142.84" y="403.0" width="1.94" height="13.0" fill="#7fc97f"/>
<rect x="144.34" y="403.0" width="1.94" height="6.0" fill="#7fc97f"/>
<rect x="145.83" y="403.0" width="1.94" height="9.0" fill="#7fc97f"/>
<rect x="147.32" y="403.0" width="1.94" height="6.0" fill="#7fc97f"/>
<rect x="148.81" y="403.0" width="1.94" height="13.0" fill="#7fc97f"/>
<rect x="150.31" y="403.0" width="1.94" height="9.0" fill="#7fc97f"/>
<rect x="151.80" y="403.0" width="1.94" height="11.0" fill="#7fc97f"/>
<rect x="153.29" y="403.0" width="1.94" height="13.0" fill="#7fc97f"/>
<rect x="154.78" y="403.0" width="1.94" height="18.0" fill="#7fc97f"/>
<rect x="156.28" y="403.0" width="1.94" height="6.0" fill="#7fc97f"/>
<rect x="157.77" y="403.0" width="1.94" height="21.2" fill="#7fc97f"/>
<rect x="159.26" y="403.0" width="1.94" height="18.9" fill="#7fc97f"/>
<rect x="160.75" y="403.0" width="1.94" height="18.4" fill="#7fc97f"/>
<rect x="162.25" y="403.0" width="1.94" height="18.7" fill="#7fc97f"/>
<polygon points="109.8,514.4 109.8,501.6 128.0,498.2 131.4,498.2 131.4,514.4" fill="#a9db5c"/>
<rect x="112.00" y="499.6" width="0.80" height="1.9" fill="#b5452a"/>
<rect x="115.50" y="498.9" width="0.80" height="1.9" fill="#b5452a"/>
<rect x="119.00" y="498.3" width="0.80" height="1.9" fill="#b5452a"/>
<rect x="122.50" y="497.6" width="0.80" height="1.9" fill="#b5452a"/>
<rect x="126.00" y="497.0" width="0.80" height="1.9" fill="#b5452a"/>
<rect x="128.20" y="482.0" width="3.20" height="17.0" fill="#fbe9a0"/>
<rect x="131.40" y="471.0" width="5.60" height="30.0" fill="#ffff99"/>
<rect x="131.40" y="501.0" width="5.60" height="13.4" fill="#a9db5c"/>
<rect x="133.40" y="466.0" width="1.20" height="32.0" fill="#f0027f"/>
<rect x="131.40" y="471.0" width="1.20" height="29.0" fill="#fbe9a0"/>
<rect x="136.00" y="457.0" width="4.20" height="33.0" fill="#ffff99"/>
<rect x="136.60" y="464.0" width="3.60" height="9.0" fill="#f0027f"/>
<rect x="136.00" y="490.0" width="4.20" height="24.4" fill="#a9db5c"/>
<rect x="140.20" y="458.4" width="6.10" height="31.6" fill="#ffff99"/>
<rect x="140.20" y="490.0" width="6.10" height="24.4" fill="#a9db5c"/>
<rect x="141.50" y="490.0" width="0.90" height="20.0" fill="#ffff99"/>
<rect x="144.00" y="490.0" width="0.90" height="16.0" fill="#ffff99"/>
<rect x="145.00" y="470.0" width="0.90" height="20.0" fill="#f0027f"/>
<rect x="142.60" y="458.4" width="1.00" height="11.6" fill="#fdc086"/>
<rect x="146.30" y="480.0" width="17.00" height="34.4" fill="#a9db5c"/>
<rect x="145.83" y="464.0" width="1.94" height="33.5" fill="#f0027f"/>
<rect x="147.32" y="464.0" width="1.94" height="33.5" fill="#f0027f"/>
<rect x="148.81" y="464.0" width="1.94" height="33.5" fill="#f0027f"/>
<rect x="150.31" y="464.0" width="1.94" height="33.5" fill="#f0027f"/>
<rect x="151.80" y="464.0" width="1.94" height="26.5" fill="#f0027f"/>
<rect x="153.29" y="464.0" width="1.94" height="31.4" fill="#f0027f"/>
<rect x="154.78" y="464.0" width="1.94" height="28.8" fill="#f0027f"/>
<rect x="156.28" y="464.0" width="1.94" height="31.9" fill="#f0027f"/>
<rect x="157.77" y="464.0" width="1.94" height="28.7" fill="#f0027f"/>
<rect x="159.26" y="464.0" width="1.94" height="24.6" fill="#f0027f"/>
<rect x="160.75" y="464.0" width="1.94" height="23.6" fill="#f0027f"/>
<rect x="162.25" y="464.0" width="1.94" height="16.0" fill="#f0027f"/>
<rect x="146.60" y="464.0" width="1.20" height="17.0" fill="#ffff99"/>
<rect x="152.60" y="464.0" width="0.90" height="12.0" fill="#ffff99"/>
<rect x="156.00" y="464.0" width="0.90" height="8.0" fill="#beaed4"/>
<rect x="160.40" y="464.0" width="0.90" height="6.0" fill="#ffff99"/>
<rect x="163.74" y="486.7" width="1.94" height="27.7" fill="#ffff99"/>
<rect x="165.23" y="483.9" width="1.94" height="30.5" fill="#ffff99"/>
<rect x="166.72" y="481.2" width="1.94" height="8.9" fill="#d9d9d9"/>
<rect x="166.72" y="490.1" width="1.94" height="24.3" fill="#fffbd0"/>
<rect x="168.22" y="478.5" width="1.94" height="14.2" fill="#d9d9d9"/>
<rect x="168.22" y="492.7" width="1.94" height="21.7" fill="#fffbd0"/>
<rect x="169.71" y="476.2" width="1.94" height="15.7" fill="#d9d9d9"/>
<rect x="169.71" y="492.0" width="1.94" height="22.4" fill="#ffec6a"/>
<rect x="171.20" y="475.0" width="1.94" height="19.3" fill="#d9d9d9"/>
<rect x="171.20" y="494.3" width="1.94" height="20.1" fill="#fffbd0"/>
<rect x="172.69" y="473.8" width="1.94" height="16.9" fill="#d9d9d9"/>
<rect x="172.69" y="490.7" width="1.94" height="23.7" fill="#ffec6a"/>
<rect x="174.19" y="472.7" width="1.94" height="18.7" fill="#d9d9d9"/>
<rect x="174.19" y="491.3" width="1.94" height="23.1" fill="#fffbd0"/>
<rect x="175.68" y="471.5" width="1.94" height="24.1" fill="#d9d9d9"/>
<rect x="175.68" y="495.6" width="1.94" height="18.8" fill="#ffec6a"/>
<rect x="177.17" y="469.0" width="1.94" height="21.5" fill="#d9d9d9"/>
<rect x="177.17" y="490.5" width="1.94" height="23.9" fill="#ffec6a"/>
<rect x="178.66" y="466.0" width="1.94" height="22.6" fill="#d9d9d9"/>
<rect x="178.66" y="488.6" width="1.94" height="25.8" fill="#fffbd0"/>
<rect x="180.16" y="466.0" width="1.94" height="23.8" fill="#d9d9d9"/>
<rect x="180.16" y="489.8" width="1.94" height="24.6" fill="#ffec6a"/>
<rect x="179.30" y="453.8" width="1.70" height="12.5" fill="#f0027f"/>
<rect x="179.30" y="466.3" width="1.00" height="48.1" fill="#ffec6a"/>
<rect x="180.30" y="466.3" width="0.90" height="48.1" fill="#4a4f60"/>
<rect x="204.50" y="403.0" width="1.00" height="4.0" fill="#7fc97f"/>
<rect x="206.60" y="403.0" width="1.00" height="2.5" fill="#7fc97f"/>
<rect x="208.60" y="403.0" width="1.20" height="6.0" fill="#7fc97f"/>
<polygon points="202.0,514.4 202.0,509.6 210.0,505.0 218.0,500.5 220.0,498.0 222.6,489.0 224.0,471.0 228.7,464.0 235.5,458.4 241.2,449.3 243.5,452.7 246.9,452.7 246.9,514.4" fill="#f0027f"/>
<rect x="207.80" y="503.0" width="1.20" height="11.4" fill="#ffff99"/>
<rect x="223.44" y="469.7" width="1.19" height="40.8" fill="#ffff99"/>
<rect x="224.93" y="467.5" width="1.19" height="37.5" fill="#ffff99"/>
<rect x="226.43" y="465.3" width="1.19" height="29.0" fill="#ffff99"/>
<rect x="227.92" y="463.1" width="1.19" height="23.3" fill="#ffff99"/>
<rect x="232.40" y="459.3" width="1.19" height="46.6" fill="#ffff99"/>
<rect x="233.89" y="458.1" width="1.19" height="28.0" fill="#ffff99"/>
<rect x="238.37" y="451.6" width="1.19" height="50.6" fill="#ffff99"/>
<rect x="239.86" y="449.3" width="1.19" height="22.8" fill="#ffff99"/>
<rect x="242.84" y="449.7" width="1.19" height="24.3" fill="#ffff99"/>
<rect x="244.34" y="450.6" width="1.19" height="16.4" fill="#ffff99"/>
<rect x="225.40" y="468.0" width="1.00" height="38.0" fill="#ffff99"/>
<rect x="227.60" y="462.0" width="0.90" height="30.0" fill="#ffff99"/>
<rect x="230.20" y="460.0" width="1.10" height="54.4" fill="#ffff99"/>
<rect x="232.80" y="458.0" width="1.20" height="42.0" fill="#ffff99"/>
<rect x="236.00" y="456.0" width="0.90" height="26.0" fill="#ffff99"/>
<rect x="221.00" y="480.0" width="0.90" height="32.0" fill="#ffff99"/>
<rect x="224.00" y="470.0" width="0.80" height="6.0" fill="#2f68b4"/>
<rect x="241.00" y="449.0" width="0.80" height="6.0" fill="#2f68b4"/>
<rect x="237.80" y="489.0" width="1.60" height="17.0" fill="#a9db5c"/>
<rect x="237.80" y="506.0" width="1.60" height="8.4" fill="#d9d9d9"/>
<rect x="242.30" y="475.4" width="3.50" height="29.6" fill="#a9db5c"/>
<rect x="242.30" y="505.0" width="3.50" height="9.4" fill="#d9d9d9"/>
<rect x="240.00" y="474.0" width="1.00" height="40.4" fill="#ffff99"/>
<rect x="238.00" y="403.0" width="1.00" height="22.0" fill="#beaed4"/>
<rect x="240.50" y="403.0" width="1.50" height="17.0" fill="#beaed4"/>
<rect x="243.00" y="403.0" width="1.20" height="29.0" fill="#beaed4"/>
<rect x="245.20" y="403.0" width="1.60" height="33.0" fill="#beaed4"/>
<rect x="224.50" y="403.0" width="0.80" height="13.0" fill="#beaed4"/>
<rect x="227.00" y="403.0" width="0.80" height="9.0" fill="#beaed4"/>
<rect x="229.50" y="403.0" width="0.80" height="5.0" fill="#7fc97f"/>
<rect x="234.00" y="403.0" width="0.80" height="7.0" fill="#beaed4"/>
<rect x="257.77" y="403.0" width="1.94" height="6.3" fill="#beaed4"/>
<rect x="257.77" y="409.3" width="1.94" height="2.0" fill="#fdc086"/>
<rect x="259.26" y="403.0" width="1.94" height="4.9" fill="#7fc97f"/>
<rect x="259.26" y="407.9" width="1.94" height="13.9" fill="#ffff99"/>
<rect x="260.75" y="403.0" width="1.94" height="4.9" fill="#beaed4"/>
<rect x="260.75" y="407.9" width="1.94" height="10.2" fill="#fdc086"/>
<rect x="262.25" y="403.0" width="1.94" height="8.4" fill="#7fc97f"/>
<rect x="262.25" y="411.4" width="1.94" height="18.9" fill="#ffff99"/>
<rect x="263.74" y="403.0" width="1.94" height="8.8" fill="#7fc97f"/>
<rect x="263.74" y="411.8" width="1.94" height="15.6" fill="#fdc086"/>
<rect x="265.23" y="403.0" width="1.94" height="7.0" fill="#7fc97f"/>
<rect x="265.23" y="410.0" width="1.94" height="11.8" fill="#ffff99"/>
<rect x="266.72" y="403.0" width="1.94" height="2.8" fill="#7fc97f"/>
<rect x="268.21" y="403.0" width="1.94" height="5.0" fill="#7fc97f"/>
<rect x="268.21" y="408.0" width="1.94" height="18.1" fill="#ffff99"/>
<rect x="269.71" y="403.0" width="1.94" height="4.9" fill="#7fc97f"/>
<rect x="269.71" y="407.9" width="1.94" height="6.5" fill="#fdc086"/>
<rect x="271.20" y="403.0" width="1.94" height="8.5" fill="#7fc97f"/>
<rect x="271.20" y="411.5" width="1.94" height="5.5" fill="#fdc086"/>
<rect x="272.69" y="403.0" width="1.94" height="11.9" fill="#beaed4"/>
<rect x="272.69" y="414.9" width="1.94" height="10.6" fill="#ffff99"/>
<rect x="274.19" y="403.0" width="1.94" height="15.6" fill="#beaed4"/>
<rect x="274.19" y="418.6" width="1.94" height="7.5" fill="#fdc086"/>
<rect x="275.68" y="403.0" width="1.94" height="9.2" fill="#beaed4"/>
<rect x="275.68" y="412.2" width="1.94" height="4.5" fill="#fdc086"/>
<rect x="277.17" y="403.0" width="1.94" height="13.7" fill="#7fc97f"/>
<rect x="278.66" y="403.0" width="1.94" height="14.7" fill="#beaed4"/>
<rect x="278.66" y="417.7" width="1.94" height="13.1" fill="#fdc086"/>
<rect x="280.15" y="403.0" width="1.94" height="12.2" fill="#7fc97f"/>
<rect x="280.15" y="415.2" width="1.94" height="11.2" fill="#fdc086"/>
<rect x="281.65" y="403.0" width="1.94" height="6.9" fill="#beaed4"/>
<rect x="281.65" y="409.9" width="1.94" height="18.3" fill="#fdc086"/>
<rect x="283.14" y="403.0" width="1.94" height="9.9" fill="#beaed4"/>
<rect x="283.14" y="412.9" width="1.94" height="14.4" fill="#fdc086"/>
<rect x="284.63" y="403.0" width="1.94" height="11.2" fill="#beaed4"/>
<rect x="284.63" y="414.2" width="1.94" height="22.7" fill="#fdc086"/>
<rect x="286.12" y="403.0" width="1.94" height="8.3" fill="#beaed4"/>
<rect x="286.12" y="411.3" width="1.94" height="26.8" fill="#fdc086"/>
<rect x="287.62" y="403.0" width="1.94" height="8.6" fill="#beaed4"/>
<rect x="287.62" y="411.6" width="1.94" height="32.8" fill="#beaed4"/>
<rect x="289.11" y="403.0" width="1.94" height="11.2" fill="#beaed4"/>
<rect x="289.11" y="414.2" width="1.94" height="26.0" fill="#ffff99"/>
<rect x="290.60" y="403.0" width="1.94" height="23.2" fill="#ffff99"/>
<rect x="290.60" y="426.2" width="1.94" height="25.3" fill="#d9925a"/>
<rect x="292.09" y="403.0" width="1.94" height="21.7" fill="#beaed4"/>
<rect x="292.09" y="424.7" width="1.94" height="23.6" fill="#d9925a"/>
<rect x="293.59" y="403.0" width="1.94" height="17.9" fill="#beaed4"/>
<rect x="293.59" y="420.9" width="1.94" height="34.4" fill="#fdc086"/>
<rect x="295.08" y="403.0" width="1.94" height="20.1" fill="#ffff99"/>
<rect x="295.08" y="423.1" width="1.94" height="16.7" fill="#ffff99"/>
<rect x="296.57" y="403.0" width="1.94" height="16.0" fill="#beaed4"/>
<rect x="296.57" y="419.0" width="1.94" height="44.3" fill="#d9925a"/>
<rect x="298.06" y="403.0" width="1.94" height="19.4" fill="#beaed4"/>
<rect x="298.06" y="422.4" width="1.94" height="43.5" fill="#d9925a"/>
<rect x="258.30" y="496.0" width="3.70" height="18.4" fill="#d9d9d9"/>
<rect x="266.00" y="498.0" width="4.80" height="16.4" fill="#d9d9d9"/>
<rect x="272.00" y="491.4" width="1.30" height="23.0" fill="#ffff99"/>
<rect x="272.69" y="505.2" width="1.94" height="9.2" fill="#a9db5c"/>
<rect x="274.19" y="504.9" width="1.94" height="9.5" fill="#d9d9d9"/>
<rect x="275.68" y="507.7" width="1.94" height="6.7" fill="#d9d9d9"/>
<rect x="277.17" y="507.0" width="1.94" height="7.4" fill="#d9d9d9"/>
<rect x="278.66" y="507.5" width="1.94" height="6.9" fill="#d9d9d9"/>
<rect x="280.15" y="507.5" width="1.94" height="6.9" fill="#d9d9d9"/>
<rect x="281.65" y="506.2" width="1.94" height="8.2" fill="#a9db5c"/>
<rect x="283.14" y="508.4" width="1.94" height="6.0" fill="#d9d9d9"/>
<rect x="284.63" y="504.7" width="1.94" height="9.7" fill="#d9d9d9"/>
<rect x="286.12" y="508.6" width="1.94" height="5.8" fill="#ffff99"/>
<rect x="287.62" y="506.1" width="1.94" height="8.3" fill="#d9d9d9"/>
<rect x="289.11" y="509.7" width="1.94" height="4.7" fill="#d9d9d9"/>
<rect x="285.60" y="493.7" width="1.20" height="20.7" fill="#ffff99"/>
<rect x="292.40" y="490.7" width="4.60" height="23.7" fill="#d9d9d9"/>
<rect x="297.00" y="477.7" width="2.70" height="21.7" fill="#d9d9d9"/>
<rect x="297.00" y="499.4" width="2.70" height="15.0" fill="#a9db5c"/>
<rect x="294.50" y="470.0" width="1.20" height="44.4" fill="#d9d9d9"/>
<rect x="291.50" y="452.0" width="1.00" height="18.0" fill="#fdc086"/>
<rect x="296.00" y="452.0" width="0.90" height="14.0" fill="#beaed4"/>
<rect x="360.75" y="503.4" width="1.94" height="11.0" fill="#d9d9d9"/>
<rect x="362.24" y="488.1" width="1.94" height="26.3" fill="#d9d9d9"/>
<rect x="362.24" y="501.7" width="1.94" height="12.7" fill="#ffff99"/>
<rect x="363.73" y="481.1" width="1.94" height="33.3" fill="#d9d9d9"/>
<rect x="363.73" y="499.3" width="1.94" height="15.1" fill="#ffff99"/>
<rect x="365.23" y="474.1" width="1.94" height="40.3" fill="#d9d9d9"/>
<rect x="366.72" y="471.8" width="1.94" height="42.6" fill="#d9d9d9"/>
<rect x="368.21" y="470.3" width="1.94" height="44.1" fill="#d9d9d9"/>
<rect x="369.70" y="468.9" width="1.94" height="45.5" fill="#d9d9d9"/>
<rect x="371.20" y="467.4" width="1.94" height="47.0" fill="#d9d9d9"/>
<rect x="372.69" y="479.8" width="1.94" height="10.8" fill="#666666"/>
<rect x="372.69" y="490.7" width="1.94" height="23.7" fill="#666666"/>
<rect x="374.18" y="468.4" width="1.94" height="37.7" fill="#c25515"/>
<rect x="374.18" y="506.1" width="1.94" height="8.3" fill="#ffec6a"/>
<rect x="375.67" y="468.4" width="1.94" height="9.1" fill="#666666"/>
<rect x="375.67" y="477.5" width="1.94" height="36.9" fill="#ffff99"/>
<rect x="377.17" y="477.8" width="1.94" height="33.4" fill="#666666"/>
<rect x="377.17" y="511.2" width="1.94" height="3.2" fill="#666666"/>
<rect x="378.66" y="489.8" width="1.94" height="10.1" fill="#d9d9d9"/>
<rect x="378.66" y="499.9" width="1.94" height="14.5" fill="#ffff99"/>
<rect x="380.15" y="483.7" width="1.94" height="6.0" fill="#d9d9d9"/>
<rect x="380.15" y="489.6" width="1.94" height="24.8" fill="#ffec6a"/>
<rect x="381.64" y="467.4" width="1.94" height="43.7" fill="#666666"/>
<rect x="381.64" y="511.0" width="1.94" height="3.4" fill="#ffff99"/>
<rect x="383.14" y="474.2" width="1.94" height="11.1" fill="#d9d9d9"/>
<rect x="383.14" y="485.3" width="1.94" height="29.1" fill="#ffec6a"/>
<rect x="384.63" y="499.3" width="1.94" height="6.5" fill="#666666"/>
<rect x="384.63" y="505.8" width="1.94" height="8.6" fill="#666666"/>
<rect x="386.12" y="487.1" width="1.94" height="26.1" fill="#666666"/>
<rect x="386.12" y="513.2" width="1.94" height="1.2" fill="#d9d9d9"/>
<rect x="387.61" y="465.4" width="1.94" height="24.3" fill="#666666"/>
<rect x="387.61" y="489.7" width="1.94" height="24.7" fill="#666666"/>
<rect x="389.11" y="465.3" width="1.94" height="28.0" fill="#666666"/>
<rect x="389.11" y="493.4" width="1.94" height="21.0" fill="#666666"/>
<rect x="390.60" y="464.7" width="1.94" height="18.6" fill="#666666"/>
<rect x="390.60" y="483.3" width="1.94" height="31.1" fill="#ffff99"/>
<rect x="392.09" y="486.1" width="1.94" height="9.7" fill="#666666"/>
<rect x="392.09" y="495.8" width="1.94" height="18.6" fill="#666666"/>
<rect x="393.58" y="460.1" width="1.94" height="6.4" fill="#d9d9d9"/>
<rect x="393.58" y="466.5" width="1.94" height="47.9" fill="#666666"/>
<rect x="395.08" y="462.2" width="1.94" height="28.2" fill="#d9d9d9"/>
<rect x="395.08" y="490.4" width="1.94" height="24.0" fill="#ffff99"/>
<rect x="396.57" y="465.0" width="1.94" height="23.4" fill="#666666"/>
<rect x="396.57" y="488.4" width="1.94" height="26.0" fill="#d9d9d9"/>
<rect x="398.06" y="462.0" width="1.94" height="21.1" fill="#666666"/>
<rect x="398.06" y="483.1" width="1.94" height="31.3" fill="#d9d9d9"/>
<rect x="399.55" y="459.5" width="1.94" height="35.8" fill="#d9d9d9"/>
<rect x="399.55" y="495.3" width="1.94" height="19.1" fill="#ffec6a"/>
<rect x="401.05" y="463.2" width="1.94" height="6.6" fill="#d9d9d9"/>
<rect x="401.05" y="469.9" width="1.94" height="44.5" fill="#ffff99"/>
<rect x="402.54" y="467.8" width="1.94" height="46.6" fill="#666666"/>
<rect x="404.03" y="471.5" width="1.94" height="42.9" fill="#666666"/>
<rect x="405.52" y="468.6" width="1.94" height="45.8" fill="#666666"/>
<rect x="407.02" y="468.8" width="1.94" height="45.6" fill="#666666"/>
<rect x="408.51" y="471.0" width="1.94" height="43.4" fill="#666666"/>
<rect x="408.51" y="485.3" width="1.94" height="29.1" fill="#ffff99"/>
<rect x="410.00" y="467.0" width="1.94" height="47.4" fill="#666666"/>
<rect x="410.00" y="480.5" width="1.94" height="33.9" fill="#ffff99"/>
<rect x="411.49" y="467.6" width="1.94" height="46.8" fill="#666666"/>
<rect x="411.49" y="482.4" width="1.94" height="32.0" fill="#ffff99"/>
<rect x="412.99" y="469.0" width="1.94" height="45.4" fill="#666666"/>
<rect x="412.99" y="483.3" width="1.94" height="31.1" fill="#ffff99"/>
<rect x="387.80" y="459.5" width="3.50" height="29.5" fill="#d9d9d9"/>
<rect x="398.80" y="459.5" width="3.80" height="29.5" fill="#d9d9d9"/>
<rect x="398.80" y="489.0" width="3.80" height="25.4" fill="#666666"/>
<rect x="363.73" y="403.0" width="1.94" height="23.4" fill="#fdc086"/>
<rect x="372.69" y="403.0" width="1.94" height="28.1" fill="#fdc086"/>
<rect x="375.67" y="403.0" width="1.94" height="31.0" fill="#fdc086"/>
<rect x="377.17" y="403.0" width="1.94" height="30.1" fill="#ffff99"/>
<rect x="378.66" y="403.0" width="1.94" height="25.9" fill="#fdc086"/>
<rect x="380.15" y="403.0" width="1.94" height="28.6" fill="#fdc086"/>
<rect x="381.64" y="403.0" width="1.94" height="10.3" fill="#fdc086"/>
<rect x="383.14" y="403.0" width="1.94" height="7.5" fill="#fdc086"/>
<rect x="384.63" y="403.0" width="1.94" height="30.7" fill="#fdc086"/>
<rect x="387.61" y="403.0" width="1.94" height="26.7" fill="#fdc086"/>
<rect x="392.09" y="403.0" width="1.94" height="9.8" fill="#fdc086"/>
<rect x="393.58" y="403.0" width="1.94" height="20.4" fill="#fdc086"/>
<rect x="396.57" y="403.0" width="1.94" height="12.3" fill="#fdc086"/>
<rect x="399.55" y="403.0" width="1.94" height="10.1" fill="#ffff99"/>
<rect x="401.05" y="403.0" width="1.94" height="22.8" fill="#ffff99"/>
<rect x="402.54" y="403.0" width="1.94" height="20.4" fill="#fdc086"/>
<rect x="404.03" y="403.0" width="1.94" height="7.3" fill="#fdc086"/>
<rect x="407.02" y="403.0" width="1.94" height="26.2" fill="#fdc086"/>
<rect x="408.51" y="403.0" width="1.94" height="11.3" fill="#fdc086"/>
<rect x="410.00" y="403.0" width="1.94" height="25.1" fill="#ffff99"/>
<rect x="406.00" y="403.0" width="9.20" height="13.0" fill="#ffff99"/>
<rect x="411.00" y="403.0" width="1.30" height="21.0" fill="#fdc086"/>
<rect x="407.50" y="416.0" width="1.20" height="12.0" fill="#fdc086"/>
<rect x="360.00" y="403.0" width="0.90" height="6.0" fill="#f0027f"/>
<rect x="379.90" y="409.0" width="1.00" height="38.0" fill="#f0027f"/>
<rect x="385.60" y="425.0" width="1.00" height="32.0" fill="#f0027f"/>
<rect x="394.70" y="448.0" width="1.00" height="9.0" fill="#f0027f"/>
<rect x="408.30" y="409.4" width="1.00" height="6.6" fill="#f0027f"/>
<rect x="408.30" y="452.7" width="1.00" height="9.1" fill="#f0027f"/>
<polygon points="430.0,403.0 431.0,443.6 435.7,450.4 447.0,453.8 458.5,458.4 470.4,464.0 470.4,403.0" fill="#ffff99"/>
<rect x="439.85" y="433.3" width="1.12" height="19.0" fill="#d9d9d9"/>
<rect x="454.78" y="403.0" width="1.12" height="54.7" fill="#fdc086"/>
<rect x="456.27" y="437.1" width="1.12" height="21.2" fill="#fdc086"/>
<rect x="457.76" y="430.0" width="1.12" height="28.9" fill="#fdc086"/>
<rect x="459.25" y="403.0" width="1.12" height="56.6" fill="#beaed4"/>
<rect x="460.75" y="403.0" width="1.12" height="57.3" fill="#cf7a3a"/>
<rect x="436.80" y="403.0" width="1.00" height="48.0" fill="#666666"/>
<rect x="433.00" y="403.0" width="0.80" height="44.0" fill="#666666"/>
<rect x="443.60" y="420.8" width="1.00" height="31.2" fill="#f0027f"/>
<rect x="458.50" y="411.7" width="1.00" height="25.0" fill="#f0027f"/>
<rect x="466.40" y="423.0" width="1.20" height="37.0" fill="#f0027f"/>
<rect x="463.20" y="423.0" width="1.00" height="29.7" fill="#f0027f"/>
<rect x="447.20" y="403.0" width="1.00" height="50.0" fill="#d9d9d9"/>
<rect x="449.60" y="403.0" width="1.00" height="50.0" fill="#d9d9d9"/>
<rect x="452.60" y="403.0" width="1.00" height="50.0" fill="#d9d9d9"/>
<rect x="451.00" y="403.0" width="1.00" height="27.0" fill="#fdc086"/>
<rect x="455.60" y="403.0" width="1.10" height="29.0" fill="#fdc086"/>
<rect x="440.00" y="403.0" width="1.00" height="15.0" fill="#fdc086"/>
<rect x="460.70" y="403.0" width="9.70" height="8.0" fill="#beaed4"/>
<rect x="460.00" y="436.7" width="1.10" height="22.4" fill="#cf7a3a"/>
<rect x="462.00" y="436.7" width="1.10" height="23.3" fill="#cf7a3a"/>
<rect x="465.00" y="436.7" width="1.10" height="24.8" fill="#cf7a3a"/>
<rect x="467.60" y="436.7" width="1.10" height="26.0" fill="#cf7a3a"/>
<rect x="469.20" y="436.7" width="1.10" height="26.7" fill="#cf7a3a"/>
<rect x="461.00" y="411.0" width="1.00" height="14.0" fill="#fdc086"/>
<rect x="464.00" y="411.0" width="1.00" height="14.0" fill="#fdc086"/>
<rect x="468.60" y="411.0" width="1.00" height="14.0" fill="#fdc086"/>
<rect x="460.00" y="482.0" width="5.00" height="32.4" fill="#a9db5c"/>
<rect x="465.00" y="498.0" width="5.40" height="16.4" fill="#a9db5c"/>
<rect x="461.00" y="482.0" width="1.00" height="32.4" fill="#d9d9d9"/>
<rect x="463.20" y="486.0" width="0.90" height="28.4" fill="#ffff99"/>
<rect x="466.50" y="498.0" width="1.00" height="10.0" fill="#666666"/>
<rect x="430.00" y="488.0" width="1.30" height="26.4" fill="#a9db5c"/>
<rect x="436.10" y="484.6" width="1.20" height="29.8" fill="#a9db5c"/>
<rect x="451.60" y="461.8" width="1.30" height="52.6" fill="#a9db5c"/>
<rect x="442.50" y="509.6" width="1.00" height="4.8" fill="#a9db5c"/>
<rect x="455.00" y="496.0" width="1.20" height="18.4" fill="#d9d9d9"/>
<rect x="457.80" y="496.0" width="1.40" height="18.4" fill="#d9d9d9"/>
<rect x="464.00" y="489.0" width="1.20" height="25.4" fill="#a9db5c"/>
<rect x="489.10" y="403.0" width="1.94" height="17.8" fill="#beaed4"/>
<rect x="489.10" y="420.8" width="1.94" height="12.3" fill="#ffff99"/>
<rect x="490.60" y="403.0" width="1.94" height="17.8" fill="#beaed4"/>
<rect x="490.60" y="420.8" width="1.94" height="19.0" fill="#ffff99"/>
<rect x="492.09" y="403.0" width="1.94" height="17.8" fill="#beaed4"/>
<rect x="492.09" y="420.8" width="1.94" height="25.8" fill="#ffff99"/>
<rect x="493.58" y="403.0" width="1.94" height="4.0" fill="#7fc97f"/>
<rect x="493.58" y="407.0" width="1.94" height="42.0" fill="#ffff99"/>
<rect x="493.58" y="449.0" width="1.94" height="4.1" fill="#666666"/>
<rect x="495.07" y="403.0" width="1.94" height="4.0" fill="#7fc97f"/>
<rect x="495.07" y="407.0" width="1.94" height="42.0" fill="#ffff99"/>
<rect x="495.07" y="449.0" width="1.94" height="8.6" fill="#666666"/>
<rect x="496.57" y="403.0" width="1.94" height="4.0" fill="#7fc97f"/>
<rect x="496.57" y="407.0" width="1.94" height="42.0" fill="#ffff99"/>
<rect x="496.57" y="449.0" width="1.94" height="13.1" fill="#666666"/>
<rect x="498.06" y="403.0" width="1.94" height="29.0" fill="#beaed4"/>
<rect x="498.06" y="432.0" width="1.94" height="20.7" fill="#ffff99"/>
<rect x="498.06" y="452.7" width="1.94" height="13.8" fill="#666666"/>
<rect x="499.55" y="403.0" width="1.94" height="29.0" fill="#beaed4"/>
<rect x="499.55" y="432.0" width="1.94" height="20.7" fill="#ffff99"/>
<rect x="499.55" y="452.7" width="1.94" height="16.8" fill="#666666"/>
<rect x="501.04" y="403.0" width="1.94" height="29.0" fill="#beaed4"/>
<rect x="501.04" y="432.0" width="1.94" height="20.7" fill="#ffff99"/>
<rect x="501.04" y="452.7" width="1.94" height="19.7" fill="#666666"/>
<rect x="502.54" y="403.0" width="1.94" height="29.0" fill="#beaed4"/>
<rect x="502.54" y="432.0" width="1.94" height="20.7" fill="#ffff99"/>
<rect x="502.54" y="452.7" width="1.94" height="22.7" fill="#666666"/>
<rect x="504.03" y="403.0" width="1.94" height="29.0" fill="#beaed4"/>
<rect x="504.03" y="432.0" width="1.94" height="20.7" fill="#ffff99"/>
<rect x="504.03" y="452.7" width="1.94" height="25.5" fill="#666666"/>
<rect x="489.40" y="425.0" width="0.80" height="8.0" fill="#444"/>
<rect x="500.00" y="464.0" width="1.50" height="5.8" fill="#f0027f"/>
<rect x="499.20" y="403.0" width="1.00" height="29.0" fill="#ffff99"/>
<rect x="497.60" y="403.0" width="1.40" height="7.0" fill="#7fc97f"/>
<rect x="502.50" y="432.0" width="1.00" height="13.0" fill="#fdc086"/>
<rect x="523.80" y="403.0" width="1.70" height="44.0" fill="#ffff99"/>
<rect x="533.00" y="403.0" width="2.00" height="24.6" fill="#c25515"/>
<rect x="535.00" y="403.0" width="3.00" height="24.6" fill="#fdc086"/>
<rect x="538.00" y="403.0" width="3.00" height="36.0" fill="#c25515"/>
<rect x="541.00" y="403.0" width="1.00" height="44.0" fill="#fdc086"/>
<rect x="542.00" y="403.0" width="4.60" height="52.0" fill="#c25515"/>
<rect x="544.00" y="403.0" width="0.90" height="27.0" fill="#fdc086"/>
<rect x="550.00" y="403.0" width="3.00" height="11.0" fill="#c25515"/>
<rect x="553.00" y="403.0" width="4.00" height="38.3" fill="#fdc086"/>
<rect x="554.50" y="403.0" width="1.00" height="38.3" fill="#e8904a"/>
<rect x="557.00" y="403.0" width="2.00" height="17.8" fill="#fdc086"/>
<rect x="540.20" y="464.0" width="1.20" height="50.4" fill="#ffec6a"/>
<rect x="547.70" y="460.6" width="3.50" height="53.8" fill="#ffec6a"/>
<rect x="551.20" y="498.0" width="1.80" height="16.4" fill="#ffec6a"/>
<rect x="553.00" y="489.0" width="3.00" height="25.4" fill="#ffec6a"/>
<rect x="556.00" y="475.4" width="3.20" height="39.0" fill="#ffec6a"/>
<rect x="563.73" y="403.0" width="1.94" height="3.3" fill="#d9d9d9"/>
<rect x="565.22" y="403.0" width="1.94" height="8.8" fill="#d9d9d9"/>
<rect x="566.71" y="403.0" width="1.94" height="11.6" fill="#d9d9d9"/>
<rect x="568.21" y="403.0" width="1.94" height="14.4" fill="#d9d9d9"/>
<rect x="569.70" y="403.0" width="1.94" height="17.2" fill="#d9d9d9"/>
<rect x="571.19" y="403.0" width="1.94" height="19.9" fill="#d9d9d9"/>
<rect x="572.68" y="403.0" width="1.94" height="22.0" fill="#d9d9d9"/>
<rect x="574.18" y="403.0" width="1.94" height="24.2" fill="#d9d9d9"/>
<rect x="575.67" y="403.0" width="1.94" height="26.3" fill="#d9d9d9"/>
<rect x="577.16" y="403.0" width="1.94" height="28.4" fill="#d9d9d9"/>
<rect x="578.65" y="403.0" width="1.94" height="30.6" fill="#d9d9d9"/>
<rect x="580.15" y="403.0" width="1.94" height="32.7" fill="#d9d9d9"/>
<rect x="581.64" y="403.0" width="1.94" height="35.1" fill="#d9d9d9"/>
<rect x="583.13" y="403.0" width="1.94" height="37.8" fill="#d9d9d9"/>
<rect x="584.62" y="403.0" width="1.94" height="41.3" fill="#d9d9d9"/>
<rect x="586.12" y="403.0" width="1.94" height="44.9" fill="#d9d9d9"/>
<rect x="587.61" y="403.0" width="1.94" height="46.7" fill="#d9d9d9"/>
<rect x="589.10" y="403.0" width="1.94" height="47.8" fill="#d9d9d9"/>
<rect x="590.59" y="403.0" width="1.94" height="48.8" fill="#d9d9d9"/>
<rect x="592.09" y="403.0" width="1.94" height="49.9" fill="#d9d9d9"/>
<rect x="593.58" y="403.0" width="1.94" height="50.8" fill="#d9d9d9"/>
<rect x="595.07" y="403.0" width="1.94" height="51.4" fill="#d9d9d9"/>
<rect x="596.56" y="403.0" width="1.94" height="52.0" fill="#d9d9d9"/>
<rect x="598.06" y="403.0" width="1.94" height="52.6" fill="#d9d9d9"/>
<rect x="599.55" y="403.0" width="1.94" height="53.2" fill="#d9d9d9"/>
<rect x="601.04" y="403.0" width="1.94" height="53.8" fill="#d9d9d9"/>
<rect x="602.53" y="403.0" width="1.94" height="54.4" fill="#d9d9d9"/>
<rect x="604.03" y="403.0" width="1.94" height="55.0" fill="#d9d9d9"/>
<rect x="605.52" y="403.0" width="1.94" height="55.7" fill="#d9d9d9"/>
<rect x="607.01" y="403.0" width="1.94" height="56.4" fill="#d9d9d9"/>
<rect x="608.50" y="403.0" width="1.94" height="57.2" fill="#d9d9d9"/>
<rect x="610.00" y="403.0" width="1.94" height="57.9" fill="#d9d9d9"/>
<rect x="611.49" y="403.0" width="1.94" height="58.7" fill="#d9d9d9"/>
<rect x="612.98" y="403.0" width="1.94" height="59.4" fill="#d9d9d9"/>
<rect x="614.47" y="403.0" width="1.94" height="60.2" fill="#d9d9d9"/>
<rect x="615.97" y="403.0" width="1.94" height="60.9" fill="#d9d9d9"/>
<rect x="617.46" y="403.0" width="1.94" height="62.0" fill="#d9d9d9"/>
<rect x="618.95" y="403.0" width="1.94" height="63.2" fill="#d9d9d9"/>
<rect x="620.44" y="403.0" width="1.94" height="64.4" fill="#d9d9d9"/>
<rect x="621.94" y="403.0" width="1.94" height="65.6" fill="#d9d9d9"/>
<rect x="623.43" y="403.0" width="1.94" height="66.8" fill="#d9d9d9"/>
<rect x="624.92" y="403.0" width="1.94" height="68.0" fill="#d9d9d9"/>
<rect x="626.41" y="403.0" width="1.94" height="69.2" fill="#d9d9d9"/>
<rect x="627.91" y="403.0" width="1.49" height="70.3" fill="#d9d9d9"/>
<rect x="587.30" y="403.0" width="0.90" height="20.0" fill="#c25515"/>
<rect x="589.60" y="403.0" width="0.90" height="6.0" fill="#c25515"/>
<rect x="595.30" y="403.0" width="1.00" height="24.6" fill="#c25515"/>
<rect x="597.50" y="403.0" width="0.90" height="9.0" fill="#c25515"/>
<rect x="601.00" y="403.0" width="3.40" height="36.0" fill="#c25515"/>
<rect x="609.00" y="403.0" width="2.20" height="38.0" fill="#c25515"/>
<rect x="606.00" y="403.0" width="0.80" height="42.0" fill="#fdc086"/>
<rect x="606.80" y="403.0" width="0.80" height="56.4" fill="#c25515"/>
<rect x="612.98" y="403.0" width="1.94" height="24.6" fill="#fdc086"/>
<rect x="612.98" y="427.6" width="1.94" height="9.1" fill="#c25515"/>
<rect x="614.47" y="403.0" width="1.94" height="24.6" fill="#fdc086"/>
<rect x="614.47" y="427.6" width="1.94" height="9.1" fill="#c25515"/>
<rect x="615.97" y="403.0" width="1.94" height="44.0" fill="#c25515"/>
<rect x="615.97" y="447.0" width="1.17" height="15.8" fill="#555"/>
<rect x="617.46" y="403.0" width="1.94" height="44.0" fill="#c25515"/>
<rect x="617.46" y="447.0" width="1.17" height="15.8" fill="#555"/>
<rect x="618.95" y="403.0" width="1.94" height="17.7" fill="#c25515"/>
<rect x="620.44" y="403.0" width="1.94" height="17.7" fill="#c25515"/>
<rect x="621.94" y="403.0" width="1.94" height="35.3" fill="#c25515"/>
<rect x="623.43" y="403.0" width="1.94" height="38.9" fill="#c25515"/>
<rect x="624.92" y="403.0" width="1.94" height="39.6" fill="#c25515"/>
<rect x="626.41" y="403.0" width="1.94" height="44.0" fill="#c25515"/>
<rect x="627.91" y="403.0" width="1.49" height="44.0" fill="#c25515"/>
<rect x="623.40" y="403.0" width="0.90" height="22.0" fill="#fdc086"/>
<rect x="628.20" y="423.0" width="1.20" height="18.0" fill="#f0027f"/>
<rect x="617.00" y="403.0" width="0.90" height="4.0" fill="#beaed4"/>
<rect x="619.30" y="403.0" width="0.90" height="5.0" fill="#f0027f"/>
<rect x="567.00" y="403.0" width="0.80" height="2.5" fill="#beaed4"/>
<rect x="571.00" y="403.0" width="0.80" height="2.5" fill="#beaed4"/>
<rect x="575.00" y="403.0" width="0.80" height="2.5" fill="#beaed4"/>
<rect x="580.00" y="403.0" width="0.80" height="2.5" fill="#f0027f"/>
<rect x="584.00" y="403.0" width="0.80" height="2.5" fill="#c25515"/>
<path d="M33.89 403.0V514.4M36.88 403.0V514.4M41.35 403.0V514.4M42.85 403.0V514.4M45.83 403.0V514.4M47.32 403.0V514.4M50.31 403.0V514.4M53.30 403.0V514.4M56.28 403.0V514.4M65.23 403.0V514.4M69.71 403.0V514.4M71.20 403.0V514.4M74.19 403.0V514.4M81.65 403.0V514.4M84.64 403.0V514.4M89.11 403.0V514.4M90.61 403.0V514.4M92.10 403.0V514.4M95.08 403.0V514.4M98.07 403.0V514.4M101.06 403.0V514.4M102.55 403.0V514.4M115.98 403.0V514.4M124.94 403.0V514.4M129.41 403.0V514.4M130.91 403.0V514.4M135.38 403.0V514.4M138.37 403.0V514.4M139.86 403.0V514.4M141.35 403.0V514.4M145.83 403.0V514.4M148.81 403.0V514.4M151.80 403.0V514.4M159.26 403.0V514.4M160.75 403.0V514.4M163.74 403.0V514.4M165.23 403.0V514.4M166.72 403.0V514.4M169.71 403.0V514.4M171.20 403.0V514.4M174.19 403.0V514.4M178.66 403.0V514.4M180.16 403.0V514.4M192.10 403.0V514.4M195.08 403.0V514.4M196.57 403.0V514.4M202.54 403.0V514.4M204.04 403.0V514.4M207.02 403.0V514.4M211.50 403.0V514.4M214.48 403.0V514.4M217.47 403.0V514.4M221.95 403.0V514.4M223.44 403.0V514.4M227.92 403.0V514.4M229.41 403.0V514.4M232.40 403.0V514.4M233.89 403.0V514.4M235.38 403.0V514.4M236.87 403.0V514.4M239.86 403.0V514.4M241.35 403.0V514.4M244.34 403.0V514.4M248.81 403.0V514.4M250.31 403.0V514.4M253.29 403.0V514.4M254.78 403.0V514.4M256.27 403.0V514.4M259.26 403.0V514.4M260.75 403.0V514.4M262.25 403.0V514.4M265.23 403.0V514.4M268.21 403.0V514.4M269.71 403.0V514.4M274.19 403.0V514.4M275.68 403.0V514.4M277.17 403.0V514.4M280.15 403.0V514.4M284.63 403.0V514.4M286.12 403.0V514.4M292.09 403.0V514.4M293.59 403.0V514.4M295.08 403.0V514.4M298.06 403.0V514.4M299.56 403.0V514.4M301.05 403.0V514.4M302.54 403.0V514.4M304.03 403.0V514.4M307.02 403.0V514.4M308.51 403.0V514.4M314.48 403.0V514.4M318.96 403.0V514.4M326.42 403.0V514.4M327.91 403.0V514.4M329.41 403.0V514.4M330.90 403.0V514.4M333.88 403.0V514.4M336.87 403.0V514.4M347.32 403.0V514.4M350.30 403.0V514.4M351.79 403.0V514.4M356.27 403.0V514.4M360.75 403.0V514.4M362.24 403.0V514.4M365.23 403.0V514.4M368.21 403.0V514.4M369.70 403.0V514.4M374.18 403.0V514.4M381.64 403.0V514.4M386.12 403.0V514.4M387.61 403.0V514.4M389.11 403.0V514.4M392.09 403.0V514.4M393.58 403.0V514.4M396.57 403.0V514.4M398.06 403.0V514.4M399.55 403.0V514.4M401.05 403.0V514.4M402.54 403.0V514.4M407.02 403.0V514.4M410.00 403.0V514.4M411.49 403.0V514.4M412.99 403.0V514.4M417.46 403.0V514.4M418.96 403.0V514.4M420.45 403.0V514.4M421.94 403.0V514.4M426.42 403.0V514.4M427.91 403.0V514.4M429.40 403.0V514.4M430.90 403.0V514.4M435.37 403.0V514.4M439.85 403.0V514.4M441.34 403.0V514.4M442.84 403.0V514.4M445.82 403.0V514.4M448.81 403.0V514.4M450.30 403.0V514.4M454.78 403.0V514.4M456.27 403.0V514.4M457.76 403.0V514.4M462.24 403.0V514.4M466.72 403.0V514.4M468.21 403.0V514.4M469.70 403.0V514.4M481.64 403.0V514.4M484.63 403.0V514.4M486.12 403.0V514.4M489.10 403.0V514.4M490.60 403.0V514.4M492.09 403.0V514.4M495.07 403.0V514.4M496.57 403.0V514.4M499.55 403.0V514.4M510.00 403.0V514.4M515.97 403.0V514.4M520.45 403.0V514.4M521.94 403.0V514.4M526.42 403.0V514.4M527.91 403.0V514.4M529.40 403.0V514.4M533.88 403.0V514.4M535.37 403.0V514.4M536.87 403.0V514.4M538.36 403.0V514.4M539.85 403.0V514.4M541.34 403.0V514.4M545.82 403.0V514.4M548.80 403.0V514.4M556.27 403.0V514.4M560.75 403.0V514.4M562.24 403.0V514.4M568.21 403.0V514.4M571.19 403.0V514.4M572.68 403.0V514.4M574.18 403.0V514.4M577.16 403.0V514.4M578.65 403.0V514.4M583.13 403.0V514.4M586.12 403.0V514.4M590.59 403.0V514.4M592.09 403.0V514.4M593.58 403.0V514.4M595.07 403.0V514.4M596.56 403.0V514.4M598.06 403.0V514.4M599.55 403.0V514.4M601.04 403.0V514.4M604.03 403.0V514.4M607.01 403.0V514.4M610.00 403.0V514.4M615.97 403.0V514.4M620.44 403.0V514.4M624.92 403.0V514.4M626.41 403.0V514.4M627.91 403.0V514.4" stroke="#fff" stroke-opacity="0.12" stroke-width="0.7" fill="none"/>
<rect x="32.4" y="403.0" width="597.0" height="111.39999999999998" fill="none" stroke="#8a8a8a" stroke-width="0.6"/>
<text x="43.2" y="421.3" font-size="14.5" fill="#111">K = 11</text>
<text x="51.3" y="446.8" font-family="Liberation Serif, serif" font-size="14" text-anchor="middle" fill="#111">VI</text>
<text x="97.7" y="446.8" font-family="Liberation Serif, serif" font-size="14" text-anchor="middle" fill="#111">VII</text>
<text x="172.4" y="446.8" font-family="Liberation Serif, serif" font-size="14" text-anchor="middle" fill="#111">I</text>
<text x="211.2" y="446.8" font-family="Liberation Serif, serif" font-size="14" text-anchor="middle" fill="#111">VIII</text>
<text x="270.8" y="446.8" font-family="Liberation Serif, serif" font-size="14" text-anchor="middle" fill="#111">II</text>
<text x="333.5" y="446.8" font-family="Liberation Serif, serif" font-size="14" text-anchor="middle" fill="#111">X</text>
<text x="429.5" y="482.9" font-family="Liberation Serif, serif" font-size="14" text-anchor="middle" fill="#111">XI</text>
<text x="484.6" y="482.9" font-family="Liberation Serif, serif" font-size="14" text-anchor="middle" fill="#111">IX</text>
<text x="515.4" y="482.9" font-family="Liberation Serif, serif" font-size="14" text-anchor="middle" fill="#111">V</text>
<text x="538.6" y="482.9" font-family="Liberation Serif, serif" font-size="14" text-anchor="middle" fill="#111">III</text>
<text x="582.3" y="482.9" font-family="Liberation Serif, serif" font-size="14" text-anchor="middle" fill="#111">IV</text>
</g>
</svg></body></html>
